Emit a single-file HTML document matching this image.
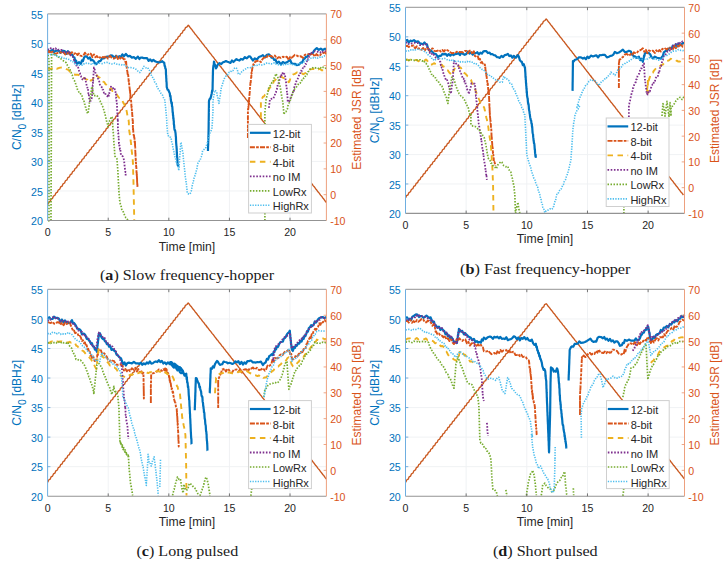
<!DOCTYPE html><html><head><meta charset="utf-8"><style>html,body{margin:0;padding:0;background:#fff;}svg{display:block;}text{font-family:"Liberation Sans",sans-serif;}.cap{font-family:"Liberation Serif",serif;}</style></head><body>
<svg width="726" height="563" viewBox="0 0 726 563">
<rect width="726" height="563" fill="#fff"/>
<path d="M108.21 13.9V220.5M168.82 13.9V220.5M229.43 13.9V220.5M290.03 13.9V220.5M47.6 190.99H326.4M47.6 161.47H326.4M47.6 131.96H326.4M47.6 102.44H326.4M47.6 72.93H326.4M47.6 43.41H326.4" stroke="#eef0f3" stroke-width="0.9" fill="none"/>
<polyline points="47.77,204.45 48.63,202.22 50.18,201.39 51.03,199.16 52.58,198.32 53.43,196.09 54.98,195.26 55.83,193.03 57.38,192.2 58.23,189.97 59.78,189.13 60.63,186.9 62.19,186.07 63.04,183.84 64.59,183.01 65.44,180.78 66.99,179.94 67.84,177.71 69.39,176.88 70.24,174.65 71.79,173.82 72.64,171.59 74.19,170.75 75.04,168.52 76.6,167.69 77.45,165.46 79,164.63 79.85,162.4 81.4,161.56 82.25,159.33 83.8,158.5 84.65,156.27 86.2,155.44 87.05,153.21 88.6,152.37 89.45,150.14 91.01,149.31 91.86,147.08 93.41,146.25 94.26,144.02 95.81,143.19 96.66,140.95 98.21,140.12 99.06,137.89 100.61,137.06 101.46,134.83 103.01,134 103.87,131.76 105.42,130.93 106.27,128.7 107.82,127.87 108.67,125.64 110.22,124.81 111.07,122.57 112.62,121.74 113.47,119.51 115.02,118.68 115.87,116.45 117.42,115.62 118.28,113.38 119.83,112.55 120.68,110.32 122.23,109.49 123.08,107.26 124.63,106.43 125.48,104.19 127.03,103.36 127.88,101.13 129.43,100.3 130.28,98.07 131.83,97.24 132.69,95 134.24,94.17 135.09,91.94 136.64,91.11 137.49,88.88 139.04,88.05 139.89,85.81 141.44,84.98 142.29,82.75 143.84,81.92 144.69,79.69 146.25,78.86 147.1,76.63 148.65,75.79 149.5,73.56 151.05,72.73 151.9,70.5 153.45,69.67 154.3,67.44 155.85,66.6 156.7,64.37 158.25,63.54 159.1,61.31 160.66,60.48 161.51,58.25 163.06,57.41 163.91,55.18 165.46,54.35 166.31,52.12 167.86,51.29 168.71,49.06 170.26,48.22 171.11,45.99 172.66,45.16 173.51,42.93 175.07,42.1 175.92,39.87 177.47,39.03 178.32,36.8 179.87,35.97 180.72,33.74 182.27,32.91 183.12,30.68 184.67,29.84 185.52,27.61 187.07,26.78 188.28,25.25 189.13,26.09 190.68,28.34 191.53,29.18 193.09,31.43 193.94,32.27 195.49,34.52 196.34,35.36 197.9,37.6 198.75,38.45 200.3,40.69 201.15,41.54 202.71,43.78 203.56,44.63 205.11,46.87 205.96,47.72 207.52,49.96 208.37,50.8 209.92,53.05 210.77,53.89 212.33,56.14 213.18,56.98 214.73,59.23 215.58,60.07 217.14,62.31 217.99,63.16 219.54,65.4 220.4,66.25 221.95,68.49 222.8,69.34 224.35,71.58 225.21,72.42 226.76,74.67 227.61,75.51 229.16,77.76 230.02,78.6 231.57,80.85 232.42,81.69 233.97,83.94 234.83,84.78 236.38,87.02 237.23,87.87 238.78,90.11 239.64,90.96 241.19,93.2 242.04,94.05 243.59,96.29 244.45,97.13 246,99.38 246.85,100.22 248.41,102.47 249.26,103.31 250.81,105.56 251.66,106.4 253.22,108.64 254.07,109.49 255.62,111.73 256.47,112.58 258.03,114.82 258.88,115.67 260.43,117.91 261.28,118.76 262.84,121 263.69,121.84 265.24,124.09 266.09,124.93 267.65,127.18 268.5,128.02 270.05,130.27 270.9,131.11 272.46,133.35 273.31,134.2 274.86,136.44 275.72,137.29 277.27,139.53 278.12,140.38 279.67,142.62 280.53,143.46 282.08,145.71 282.93,146.55 284.48,148.8 285.34,149.64 286.89,151.89 287.74,152.73 289.29,154.98 290.15,155.82 291.7,158.06 292.55,158.91 294.1,161.15 294.96,162 296.51,164.24 297.36,165.09 298.92,167.33 299.77,168.17 301.32,170.42 302.17,171.26 303.73,173.51 304.58,174.35 306.13,176.6 306.98,177.44 308.54,179.68 309.39,180.53 310.94,182.77 311.79,183.62 313.35,185.86 314.2,186.71 315.75,188.95 316.6,189.8 318.16,192.04 319.01,192.88 320.56,195.13 321.41,195.97 322.97,198.22 323.82,199.06 325.37,201.31 326.4,202.5" fill="none" stroke="#C9581F" stroke-width="1.35" stroke-linejoin="round"/>
<polyline points="47.59,49.94 49.19,51.64 50.79,50.86 52.39,49.84 53.98,52.2 55.58,50.79 57.18,50.76 58.78,50.67 60.37,52.8 61.97,51.14 63.47,50.75 64.97,51.24 66.47,53.74 67.96,51.09 69.3,53.63 70.63,52.79 71.96,54.62 72.79,55.75 73.62,57.26 74.45,57.57 75.29,61.42 76.12,60.61 76.95,64.37 78.95,62.18 80.95,63.77 81.94,60.4 82.94,61.12 83.94,57.86 84.94,56.4 86.6,56.43 88.27,58.69 89.93,57.35 90.93,60.31 91.93,59.73 92.93,60.42 93.93,61.27 94.93,63.21 96.26,64.2 97.59,62.66 98.92,61.29 100.58,60.82 102.25,58.15 103.91,58.39 105.58,57.17 107.24,56.48 108.91,56.62 110.7,55.47 112.5,55.56 114.3,58.03 116.1,55.77 117.89,57.47 119.39,56.11 120.89,56.92 122.39,54.32 123.89,56.3 125.88,53.94 127.88,56.33 129.88,55.91 131.87,57.63 133.87,57.19 135.87,58.88 137.87,56.55 139.36,59 140.86,57.52 142.36,57.64 143.86,58.2 145.46,58.09 147.05,58.17 148.65,60.89 150.25,59.42 151.85,61.3 153.34,59.83 154.84,61.13 156.34,61.74 157.84,62.14 159.34,62.48 160.83,62.06 162.33,61.21 163.83,62.68 164.23,62.65 164.63,65.98 165.03,66.26 165.43,68.83 165.83,68.95 165.91,70.51 165.99,74.31 166.08,75.06 166.16,75.3 166.24,78.35 166.33,78.21 166.41,81.77 166.49,81.47 166.58,82.47 166.66,83.85 166.74,87.14 166.83,87.28 167.57,89.72 168.32,89.97 169.07,91.72 169.82,93.37 170.15,96.39 170.49,95.89 170.82,99.72 171.15,101.42 171.49,103.67 171.82,102.48 171.98,106.53 172.15,105.98 172.32,107.19 172.48,109.29 172.65,112.37 172.82,112 172.98,115.55 173.15,115.28 173.32,118.64 173.48,118.16 173.65,120.91 173.82,121.19 173.82,124.29 174.07,124.74 174.31,128.2 174.56,129.85 174.81,130.29 175.06,130.22 175.31,131.84 175.56,133.29 175.81,136.66 175.91,136.49 176.01,139.89 176.11,142.14 176.21,143.5 176.31,144.69 176.41,146.01 176.51,146.32 176.61,148.03 176.71,148.95 176.81,152.71 176.92,154.08 177.03,155.96 177.14,157.31 177.26,157.57 177.37,159 177.48,162.11 177.59,164.07 177.7,163.88 177.81,165.44 178.81,166.92" fill="none" stroke="#0072BD" stroke-width="2.2" stroke-linejoin="round"/>
<polyline points="207.97,150.95 208.02,148.27 208.07,146.46 208.12,145.47 208.17,145.34 208.22,142.3 208.27,142.57 208.32,139.38 208.37,139.47 208.42,135.55 208.47,135.9 208.52,132.77 208.57,131.15 208.59,129.07 208.61,129.73 208.63,126.6 208.65,126.85 208.67,123.19 208.69,121.91 208.71,120.8 208.73,121.15 208.75,117.22 208.77,117.23 208.79,114.64 208.81,114.69 208.83,111.98 208.85,112.16 208.87,108.15 208.89,108.63 208.91,107.56 208.93,105.74 208.95,102.28 208.97,101.02 209.47,99.32 209.97,98.48 210.46,98.67 210.96,96.48 211.36,95.13 211.76,93.23 212.16,90.36 212.56,90.99 212.59,87.89 212.62,86.41 212.65,84.47 212.68,83.29 212.72,81.45 212.75,81.33 212.78,78.74 212.81,78.09 212.84,75 212.87,75.64 212.9,74.24 212.93,72.71 212.96,70.9 213.21,67.68 213.46,65.48 213.71,65.72 213.96,61.53 214.63,63.85 215.29,65.29 215.96,68.39 216.96,66.61 217.95,64.42 219.62,63.13 221.28,64.07 222.95,62.21 224.44,61.89 225.94,61.02 227.44,61.78 228.94,62.27 230.44,62.95 231.93,60.48 233.43,62.05 234.93,60.52 236.43,59.19 237.93,60.01 239.42,60.57 240.92,58.95 242.92,59.59 244.92,57.05 246.91,58.34 248.91,56.24 250.24,56.58 251.57,58.51 252.9,60.5 254.9,58.37 256.9,59.47 258.9,57.07 260.89,56.33 262.89,55.11 264.89,57.4 266.89,54.77 268.88,54.39 270.21,55.49 271.55,57.63 272.88,57.49 274.21,59.93 275.54,59.51 276.87,63.22 278.87,61.68 280.87,64.48 282.86,62.04 284.86,63.12 286.86,62.32 288.85,60.87 290.19,59.9 291.52,63.27 292.85,63.51 294.85,63.79 296.84,65.04 298.84,64.76 300.84,62.5 302.17,62.72 303.5,59.25 304.83,58.52 305.83,56.92 306.83,56.94 307.83,55.88 308.83,54.45 310.82,53.65 312.82,53.01 314.15,50.46 315.48,49.18 316.82,48.14 318.81,49.8 320.81,48.61 322.67,50.14 324.54,48.88 326.4,48.95" fill="none" stroke="#0072BD" stroke-width="2.2" stroke-linejoin="round"/>
<polyline points="47.59,52.94 49.19,50.97 50.79,53.46 52.39,51.67 53.98,53.52 55.58,53.97 57.18,53.17 58.78,52.29 60.37,52.08 61.97,53.51 63.57,52.15 65.17,54.43 66.77,54.82 68.36,52.56 69.96,54.45 71.96,52.22 73.96,54.13 75.95,52.49 77.45,55.07 78.95,53.48 80.45,55.66 81.94,56.01 83.44,55.41 84.94,52.67 86.44,55.09 87.94,54.62 89.43,53.19 90.93,53.78 92.43,57.1 93.93,54.37 95.43,57.26 96.92,56.07 98.42,58.4 99.92,57.23 101.42,58.42 102.91,56.98 104.41,57.59 105.91,55.98 107.91,58.6 109.9,55.74 111.9,58.08 113.4,58.62 114.9,57.88 116.4,55.99 117.89,58.98 119.39,57.09 120.89,59.27 122.39,57.55 123.89,59.41 124.88,59.26 125.88,63.65 126.13,61.65 126.38,65.7 126.63,65.25 126.88,69.32 127.13,70.61 127.38,71.46 127.63,74.13 127.88,74.82 128.08,74.08 128.28,76.11 128.48,77.89 128.68,81.49 128.88,80.57 129.08,82.58 129.28,86.51 129.48,87.13 129.68,88.71 129.88,90.83 130.03,89.97 130.18,94.54 130.34,94 130.49,97.74 130.65,98.74 130.8,99.95 130.95,100.2 131.11,100.76 131.26,103.01 131.41,105.72 131.57,107.39 131.72,106.75 131.87,110.47 132,112.18 132.12,111.99 132.25,115.22 132.37,115.43 132.5,118.11 132.62,120.31 132.75,122 132.87,120.4 132.87,125.35 132.87,127.57 132.87,129.22 133.09,128.57 133.32,131.85 133.54,133.5 133.76,135.68 133.98,134.45 134.2,137.96 134.43,137.79 134.65,142.15 134.87,140.2 134.95,142.19 135.02,143.24 135.1,147.12 135.18,146.47 135.25,150.81 135.33,150.71 135.41,154.27 135.48,153.34 135.56,156.34 135.64,156.79 135.71,160.15 135.79,159.03 135.87,162.63 135.98,162.57 136.09,166.46 136.2,165.75 136.31,167.35 136.42,168.99 136.53,172.94 136.65,171.87 136.76,175.57 136.87,174.35 136.95,178.63 137.04,177.7 137.12,182.27 137.21,181.7 137.3,184.73 137.38,183.64 137.47,186.9" fill="none" stroke="#D95319" stroke-width="1.9" stroke-dasharray="5 1.2 2.7 1.2" stroke-linejoin="round"/>
<polyline points="247.91,137.96 247.91,135.84 247.91,133.85 247.91,132.8 247.91,132.54 247.91,129.16 247.91,129.21 247.91,125.48 247.91,126.36 247.91,124.81 247.91,123.3 247.91,120.58 247.91,118.88 247.91,119.22 247.91,115.23 247.91,113.97 247.91,113.12 247.91,110.95 248.08,108.81 248.24,109.03 248.41,107.42 248.58,104.07 248.74,105.08 248.91,100.1 249.04,101.61 249.16,98.13 249.29,98.24 249.41,94.94 249.53,94.8 249.66,92.44 249.78,92.17 249.91,88.78 250.06,86.67 250.22,85.34 250.37,83.74 250.52,82.12 250.68,83.59 250.83,79.81 250.98,79.67 251.14,77.09 251.29,77.63 251.45,72.76 251.6,73.72 251.75,72.71 251.91,71.16 252.41,67.66 252.9,66.49 253.4,64.29 253.9,64.56 255.4,61.25 256.9,61.23 258.9,60.51 260.89,62.14 262.23,59.52 263.56,57.95 264.89,57.46 266.22,58.23 267.55,55.56 268.88,56.04 270.88,55.89 272.88,57.04 274.87,55.61 276.87,58.43 278.87,57.13 280.87,57.98 282.86,56.68 284.86,57.64 286.86,56.66 288.85,59.94 290.19,56.79 291.52,57.76 292.85,56.75 294.85,54.81 296.84,55.51 298.84,56.73 300.84,56.22 302.84,57.88 304.83,54.88 306.83,54.06 308.83,54.15 310.82,54.46 312.82,53.52 314.82,56.6 316.47,54.1 318.13,55.53 319.78,55.79 321.44,53.27 323.09,53.07 324.75,52.37 326.4,53.94" fill="none" stroke="#D95319" stroke-width="1.9" stroke-dasharray="5 1.2 2.7 1.2" stroke-linejoin="round"/>
<polyline points="47.59,68.92 49.19,68.51 50.79,69.2 52.39,68.51 53.98,69.38 55.58,68.13 57.18,68.74 58.78,68.04 60.37,67.66 61.97,67.53 63.47,68.17 64.97,68.17 66.47,69.06 67.96,69.67 69.46,71.2 70.96,72.62 72.46,73.69 73.96,74.44 75.55,74.71 77.15,74.64 78.75,74.99 80.35,75.81 81.94,77.66 83.28,78.21 84.61,78.14 85.94,79.23 87.27,79.59 88.6,81.67 89.93,82.42 90.93,80.26 91.93,80.12 92.93,79.14 93.93,76.9 94.93,75.51 95.92,74.15 97.12,75.74 98.32,77.13 99.52,77.44 100.72,79.2 101.92,79.55 103.11,81.62 104.31,82.12 105.51,84.23 106.71,84.91 107.91,86.07 109.05,86.42 110.19,88.73 111.33,88.57 112.47,91.08 113.61,91.2 114.76,93.23 115.9,93.48 117.09,94.92 118.29,96.93 119.49,98.1 120.69,98.25 121.89,99.13 122.69,101.24 123.49,103.25 124.28,104.15 125.08,106.81 125.88,107.55 126.22,109.17 126.55,110.62 126.88,112.19 127.21,114.35 127.55,116.17 127.88,117.61 128.21,119.46 128.55,119.93 128.88,122.54 128.88,123.75 128.88,125.37 128.88,127.43 129.1,130.14 129.32,130.79 129.54,132.81 129.77,133.93 129.99,136.13 130.21,137.69 130.43,138.22 130.65,140.72 130.88,142.33 131.03,143.06 131.18,145.46 131.34,146.08 131.49,148.87 131.64,149.97 131.8,151.95 131.95,151.95 132.1,155.03 132.26,155.28 132.41,156.65 132.57,158.15 132.72,159.74 132.87,161.62 132.92,163.92 132.96,164.4 133.01,166.35 133.06,168.45 133.1,170.33 133.15,170.74 133.2,173.44 133.24,173.7 133.29,176.3 133.33,176.78 133.38,179.42 133.43,180.17 133.47,182.48 133.5,182.94 133.53,185.18 133.56,187.12 133.59,187.34 133.63,189.2 133.66,191.92 133.69,192.18 133.72,194.87 133.75,195.37 133.78,197.74 133.81,198.34 133.84,200.82 133.87,201.61 133.9,203.21 133.94,205.26 133.97,206.89 134,207.37 134.04,209.81 134.07,210.7 134.1,213.23 134.14,214.43 134.17,216.1 134.2,217.09 134.24,219.07 134.27,220.45" fill="none" stroke="#EDB120" stroke-width="1.9" stroke-dasharray="5.5 4.5" stroke-linejoin="round"/>
<polyline points="260.89,117.85 260.89,115.49 260.89,114.34 260.89,112.63 260.89,111.64 260.89,109.22 260.89,108.25 260.89,106.81 260.89,104.46 260.89,102.97 260.89,101.92 260.89,99.15 261.89,98.92 262.89,96.79 263.89,96.54 264.89,94.87 265.89,94.07 266.89,91.62 267.88,91.33 268.88,89.41 269.74,87.84 270.59,86.87 271.45,85.77 272.31,83.46 273.16,83.15 274.02,80.78 274.87,80.3 276.37,78.61 277.87,78.18 279.37,76.35 280.87,76.45 282.86,77.61 284.86,78.65 286.19,78.84 287.52,81.22 288.85,82.17 289.65,80.71 290.45,78.3 291.25,76.7 292.05,75.13 292.85,74.55 294.85,73.91 296.84,72.41 298.44,72.74 300.04,73.93 301.64,73.16 303.23,74.26 304.83,73.36 306.16,72.93 307.5,70.73 308.83,69.38 310.42,69.37 312.02,69.11 313.62,68.93 315.22,69.55 316.82,68.46 318.41,69.42 320.01,68.86 321.61,70.18 323.21,70.18 324.8,70.52 326.4,69.92" fill="none" stroke="#EDB120" stroke-width="1.9" stroke-dasharray="5.5 4.5" stroke-linejoin="round"/>
<polyline points="47.59,48.95 49.19,49.78 50.79,48.24 52.39,47.83 53.98,49.32 55.58,48.3 57.18,50.33 58.78,49.55 60.37,50.02 61.97,49.94 63.47,52.15 64.97,52.42 66.47,52.06 67.96,52.89 69.3,52.16 70.63,55.45 71.96,56.41 72.76,56.43 73.56,58.3 74.35,61.3 75.15,62.96 75.95,63.67 76.7,66.42 77.45,66.27 78.2,67.59 78.95,70.53 79.45,72.4 79.95,72.98 80.45,75.88 80.95,76.14 81.44,78.54 81.94,78.89 83.44,79.83 84.94,76.83 85.31,80.05 85.69,80.4 86.06,83.13 86.44,84.46 86.81,85.96 87.19,86.04 87.56,89.2 87.94,88.81 88.19,92.08 88.43,93.73 88.68,93.37 88.93,95.25 89.18,98.37 89.43,98.62 89.68,101.06 89.93,100.98 90.93,100.65 91.93,97.57 92.03,97.03 92.13,94.44 92.23,94.53 92.33,90.7 92.43,90.07 92.53,87.84 92.63,87.91 92.73,85.17 92.83,85.2 92.93,82.23 93.03,80.23 93.13,80.89 93.23,79.31 93.33,76.14 93.43,75.81 93.53,73.27 93.63,73.23 93.73,70.6 93.83,70.1 93.93,67.46 94.53,68.37 95.13,72.24 95.72,73.43 96.32,74.81 96.92,76.29 97.52,77.18 98.12,78.66 98.72,80 99.32,81.72 99.92,84.76 100.72,86.17 101.52,86.62 102.32,89.6 103.11,89.57 103.91,92.73 104.91,92.21 105.91,95.41 106.91,95.86 107.91,96.98 108.41,95.05 108.91,95.7 109.41,92.46 109.9,90.94 110.4,88.87 110.9,86.7 112.4,88.48 113.9,87.64 114.4,87.5 114.9,91.07 115.4,91.44 115.9,94.91 116.06,94.41 116.23,98.23 116.4,98.33 116.56,101.22 116.73,101.27 116.9,104.69 116.98,105.74 117.06,105.88 117.14,109.39 117.23,110.34 117.31,111.87 117.39,113.79 117.48,113.67 117.56,116.29 117.64,117.78 117.73,120.18 117.81,119.36 117.89,122.51 117.89,123.61 117.89,125.09 117.89,126.95 118,129.97 118.12,130.56 118.23,133.39 118.34,133.35 118.45,135.13 118.56,136.6 118.67,139.43 118.78,139.24 118.89,143.13 119.14,142.92 119.39,145.81 119.64,145.91 119.89,149.08 120.14,148.73 120.39,149.81 120.64,152.02 120.89,154.87 121.89,155.27 122.89,156.74 123.89,159.55 124.09,160.41 124.28,162.59 124.48,164.97 124.68,166.05 124.88,168.3 125.08,170.11 125.28,171.99 125.48,171.79 125.68,175.47 125.88,175.91" fill="none" stroke="#7E2F8E" stroke-width="1.8" stroke-dasharray="1.6 1.6" stroke-linejoin="round"/>
<polyline points="268.88,107.86 269.08,105.81 269.28,104.09 269.48,103.66 269.68,102 269.88,99.17 271.38,98.81 272.88,98.25 273.48,98.53 274.08,96.53 274.67,95.8 275.27,92.89 275.87,92.48 276.37,90.63 276.87,89.46 277.37,85.82 277.87,85.74 278.37,83.32 278.87,83.02 279.44,79.94 280.01,78.53 280.58,76.69 281.15,77.16 281.72,73.87 282.29,74.37 282.86,72.18 284.86,74.81 285.06,74.54 285.26,77.82 285.46,77.82 285.66,81.25 285.86,81.33 286.06,82.35 286.26,84.68 286.46,87.55 286.66,87.49 286.86,90.15 286.98,92.36 287.11,93.52 287.23,93.19 287.36,95.54 287.48,97.03 287.61,99.3 287.73,101.46 287.86,101.15 288.85,101.68 289.85,100.28 290.85,97.25 291.45,95.94 292.05,93.97 292.65,93.61 293.25,90.57 293.85,91.02 294.35,87.13 294.85,86.05 295.35,84.01 295.84,83.78 296.34,81.25 296.84,80.35 297.64,79.01 298.44,77.19 299.24,74.37 300.04,74.28 300.84,70.72 301.84,70.89 302.84,68.07 303.83,68.41 304.83,65.55 305.43,63.81 306.03,64.11 306.63,62.51 307.23,59.43 307.83,59.74 308.43,56.72 309.03,56.9 309.63,53.9 310.22,54.46 310.82,53.01 312.82,52.58 314.82,51.11 316.82,51.32 318.41,52.07 320.01,52.71 321.61,50.82 323.21,52.11 324.8,51.41 326.4,50.94" fill="none" stroke="#7E2F8E" stroke-width="1.8" stroke-dasharray="1.6 1.6" stroke-linejoin="round"/>
<polyline points="47.99,54.94 48.32,56.11 48.66,58.62 48.99,59.18 48.99,61.93 48.99,62.49 48.99,64.8 48.99,65.22 48.99,67.86 48.99,68.72 48.99,69.93 48.99,72.69 48.99,73.85 48.99,75.72 48.99,76.74 48.99,78.32 48.99,79.84 48.99,80.45 48.99,82.91 48.99,83.58 48.99,85.75 48.99,86.27 48.99,88.83 48.99,89.6 48.99,91.06 48.99,92.58 48.99,94.64 48.99,95.43 48.99,98.08 48.99,98.7 48.99,100.85 48.99,102.43 48.99,103.81 48.99,104.36 48.99,106.73 48.99,107.36 48.99,109.17 48.99,110.71 48.99,112.09 48.99,113.52 48.99,116.18 48.99,117.52 48.99,118.12 48.99,119.67 48.99,122.21 48.99,122.23 48.99,124.87 48.99,125.6 48.99,128.02 48.99,128.47 48.99,130 48.99,131.56 48.99,133.94 48.99,134.4 48.99,137.09 48.99,137.52 48.99,139.65 48.99,141.41 48.99,142.8 48.99,143.41 48.99,145.76 48.99,146.25 48.99,148.63 48.99,149.16 48.99,151.84 48.99,152.77 48.99,154.75 48.99,155.44 48.99,157.68 48.99,158.16 48.99,159.89 48.99,162.43 48.99,163.63 48.99,165.32 48.99,166.08 48.99,167.74 48.99,169.85 48.99,171.73 48.99,171.91 48.99,173.35 48.99,175.77 48.99,176.63 48.99,179.19 48.99,179.69 48.99,181.83 48.99,182.35 48.99,184.7 48.99,185.64 48.99,187.63 48.99,188.63 48.99,189.98 48.99,192.44 48.99,193.74 48.99,194.16 48.99,196.66 48.99,197.2 48.99,199.12 48.99,200.63 48.99,203.17 48.99,203.46 48.99,205.74 48.99,206.69 48.99,208.68 48.99,209.55 48.99,212.09 48.99,212.24 48.99,214.95 48.99,216.16 48.99,217.85 48.99,219.54 48.99,221 50.99,220.04 50.99,219.25 51,216.79 51,216.66 51.01,214.93 51.01,213.51 51.02,211.96 51.03,210.51 51.03,207.8 51.04,207.62 51.04,205.15 51.05,204.43 51.05,202.2 51.06,201.16 51.06,199.68 51.07,197.35 51.07,196.62 51.08,195.54 51.08,193.22 51.09,192.73 51.1,190.11 51.1,189.45 51.11,188 51.11,186.67 51.12,184.06 51.12,183.23 51.13,181.92 51.13,180.56 51.14,177.69 51.14,176.32 51.15,175 51.15,174.69 51.16,171.97 51.17,170.69 51.17,169.08 51.18,167.46 51.18,166.69 51.19,165.58 51.19,163.13 51.2,161.35 51.2,159.97 51.21,159.74 51.21,157.62 51.22,156.34 51.22,154.08 51.23,153.55 51.24,150.73 51.24,150.62 51.25,148.12 51.25,146.2 51.26,145.79 51.26,144.2 51.27,141.67 51.27,141.57 51.28,139.28 51.28,138.31 51.29,135.7 51.3,135.62 51.3,133.84 51.31,131.71 51.31,130.72 51.32,129.38 51.32,127.74 51.33,125.46 51.33,124.22 51.34,123.42 51.34,121.19 51.35,120.51 51.35,118.08 51.36,117.52 51.37,114.76 51.37,114.41 51.38,112.94 51.38,111.19 51.39,108.92 51.39,108.15 51.4,106 51.4,105.43 51.41,102.99 51.41,102.73 51.42,99.74 51.42,99.24 51.43,96.96 51.44,96.67 51.44,94.1 51.45,92.26 51.45,91.96 51.46,90.37 51.46,88.63 51.47,87.42 51.47,85.1 51.48,84.14 51.48,81.82 51.49,81.37 51.49,78.71 51.5,77.28 51.51,75.81 51.51,75.49 51.52,74.22 51.52,71.74 51.53,70.04 51.53,68.64 51.54,66.82 51.54,65.68 51.55,63.66 51.55,62.39 51.56,61.79 51.56,60.43 51.57,58.89 51.58,57.56 51.58,54.64 51.59,54.73 53.05,53.89 54.52,54.79 55.98,54.72 57.18,56.67 58.38,57.27 59.58,57.38 60.77,58.51 61.97,59.64 63.97,61.26 65.97,62.52 66.77,63.89 67.56,65.61 68.36,66.36 69.16,68.78 69.96,69.17 70.53,71.71 71.1,72.3 71.67,74.62 72.24,75.1 72.81,77.7 73.38,78.78 73.96,80.19 74.53,80.79 75.1,82.12 75.67,83.89 76.24,86.15 76.81,86.59 77.38,89.2 77.95,90.68 78.95,92.1 79.95,92.16 80.95,94.77 81.94,95.22 82.44,97.59 82.94,99.56 83.44,101.07 83.94,101.11 84.44,103.74 84.94,104.44 85.44,107.06 85.94,107.45 86.44,110.11 86.94,110.65 87.44,113.04 87.94,113.65 88.16,113.05 88.38,110.22 88.6,109.86 88.82,107.32 89.05,106.28 89.27,104.32 89.49,102.28 89.71,101.18 89.93,100.57 90.15,99.02 90.38,97.26 90.6,94.94 90.82,94.28 91.04,91.86 91.26,91.3 91.49,89.56 91.71,87.02 91.93,86.52 92.26,87.34 92.6,88.76 92.93,91.36 93.26,91.96 93.59,94.51 93.93,95.62 96.92,95.45 97.92,96.99 98.92,98.14 99.92,100.12 100.49,101.88 101.06,102.53 101.63,104.51 102.2,106.01 102.77,106.76 103.34,108.23 103.91,110.52 104.29,110.91 104.66,113.33 105.04,113.8 105.41,116.12 105.79,117.3 106.16,119.5 106.53,121.07 106.91,121.66 107.41,123.46 107.91,126.75 108.51,123.69 109.11,123.18 109.71,120.54 110.3,119.81 110.9,117.81 111.9,116.75 112.03,117.04 112.15,118.55 112.28,119.89 112.4,122.75 112.53,123.28 112.65,125.32 112.78,126.02 112.9,127.74 113.01,130.28 113.12,131.59 113.23,132.14 113.34,134.87 113.46,135.22 113.57,137.82 113.68,139.14 113.79,140.84 113.9,142.44 114.01,144.28 114.12,145.28 114.23,147.37 114.34,147.49 114.45,149.98 114.57,150.7 114.68,153.51 114.79,155.03 114.9,156.11 116.9,158.68 117.01,159.32 117.12,160.41 117.23,163.09 117.34,163.58 117.45,166.22 117.56,166.74 117.67,169.08 117.78,169.79 117.89,171.24 117.97,173.1 118.05,174.7 118.12,175.76 118.2,178.73 118.28,178.87 118.35,181.33 118.43,182.15 118.51,184.82 118.59,185.13 118.66,187.97 118.74,188.02 118.82,190.54 118.89,191.2 119.06,194.02 119.23,194.46 119.39,197.43 119.56,198.2 119.72,200.72 119.89,201.25 120.29,203.84 120.69,204.65 121.09,206.21 121.49,207.84 121.89,210.26 122.64,210.66 123.39,212.14 124.14,214.12 124.88,216.03 125.88,217.63 126.88,218.17 127.88,220.45" fill="none" stroke="#77AC30" stroke-width="1.7" stroke-dasharray="1.5 1.5" stroke-linejoin="round"/>
<polyline points="264.89,220.45 264.89,218.23 264.89,217.8 264.89,216.61 264.89,214.68 264.89,212.17 264.89,211.89 264.89,209.22 264.89,207.79 264.89,206.44 264.89,205.93 264.89,203.65 264.89,202.94 264.89,200.5 264.89,199.87 264.89,197.27 264.89,197.07 264.89,194.52 264.89,194.04 264.89,191.53 264.89,191.05 264.89,188.5 264.89,186.65 264.89,186.31 264.89,183.51 264.89,182.46 264.89,181.94 264.89,179.53 264.89,178.66 264.89,176.49 264.89,175.66 264.89,173.53 264.89,172.96 264.89,170.12 264.89,169.54 264.89,167.32 264.89,166.81 264.89,164.04 264.89,162.72 264.89,161.51 264.89,160.67 264.89,158.99 264.89,156.78 264.89,155.05 264.89,154.9 264.89,153.26 264.89,151.51 264.89,149.01 264.89,148.95 264.89,146.94 264.89,144.64 264.89,142.95 264.89,142.69 264.89,139.85 264.89,139.48 264.89,137.24 264.89,136.5 264.89,135.25 264.89,133.65 264.89,131.36 264.89,130.79 264.89,128.36 264.89,127.23 264.89,126.07 264.89,124.54 264.89,121.81 264.89,120.37 264.89,119.31 264.89,118.19 264.89,116.21 264.89,114.66 264.89,114.27 264.89,112.59 265.01,110.04 265.14,109.14 265.26,106.89 265.39,106.25 265.51,104.09 265.64,103.48 265.76,101.86 265.89,100.43 266.26,98.94 266.64,97.33 267.01,94.93 267.38,94.05 267.76,93.14 268.13,91.05 268.51,88.92 268.88,87.18 269.88,86.01 270.88,85.21 271.88,82.64 272.88,82.2 273.48,79.99 274.08,78.22 274.67,76.88 275.27,75.72 275.87,73.68 276.87,75.51 277.87,77.36 278.27,79.05 278.67,80.85 279.07,83.16 279.47,84.08 279.87,85.59 280.17,86.88 280.47,88.49 280.77,90.33 281.07,92.57 281.37,93.32 281.66,96.13 281.96,97.78 282.26,99.46 282.56,100.77 282.86,101.63 282.99,103.91 283.11,105.53 283.24,106.93 283.36,108.65 283.49,108.88 283.61,111.16 283.74,111.83 283.86,114.49 284.86,111.87 285.86,111.72 286.86,110.03 287.36,109.03 287.86,106.08 288.36,104.63 288.85,103.45 289.35,102.56 289.85,101.4 290.35,100.09 290.85,98.53 291.42,96.75 291.99,95.63 292.56,93.85 293.13,91.44 293.7,90.1 294.28,89.67 294.85,88.64 296.18,87.21 297.51,85.68 298.84,83.27 300.17,83.17 301.5,80.46 302.84,80.39 303.83,77.84 304.83,77.52 305.83,75.14 306.83,74.64 307.83,71.88 308.83,71.25 309.83,69.72 310.82,68.51 312.82,67.7 314.82,68.2 316.82,67.43 318.41,68.38 320.01,67.23 321.61,68.48 323.21,67.25 324.8,68.53 326.4,67.92" fill="none" stroke="#77AC30" stroke-width="1.7" stroke-dasharray="1.5 1.5" stroke-linejoin="round"/>
<polyline points="47.59,53.94 49.19,53.63 50.79,54.77 52.39,54.25 53.98,55.53 55.58,54.82 57.18,56.46 58.78,56.33 60.37,57.51 61.97,57.33 63.57,57.91 65.17,59.12 66.77,58.48 68.36,59.13 69.96,59.74 71.46,61.42 72.96,61.71 74.45,63.57 75.95,64.72 77.45,64.77 78.95,65.22 80.45,65.18 81.94,65.14 83.44,63.7 84.94,64.29 86.44,63.1 87.94,63.18 89.43,63.76 90.93,64.22 92.43,62.93 93.93,64.64 95.53,64.47 97.12,62.83 98.72,62.88 100.32,63.36 101.92,63.61 103.51,63.27 105.11,62.47 106.71,62.24 108.31,63.1 109.9,63.42 111.5,63.85 113.1,64.02 114.7,63.17 116.3,64.07 117.89,64.17 119.49,64.6 121.09,64.5 122.69,65.41 124.28,64.87 125.88,66.13 127.48,67.3 129.08,67.83 130.68,67.56 132.27,67.93 133.87,68.22 135.37,68.95 136.87,69.74 138.37,71.78 139.86,72.53 140.86,71.27 141.86,68.93 142.86,68.42 143.86,66.28 145.85,67.8 147.85,67.59 148.6,69.73 149.35,70.34 150.1,71.96 150.85,73.24 151.6,76.17 152.35,76.66 153.09,78.61 153.84,79.28 154.64,81.96 155.44,82.55 156.24,83.95 157.04,86.9 157.84,88.15 158.84,90.11 159.84,91.16 160.83,93.16 161.83,94.15 162.58,95.21 163.33,97.33 164.08,98.86 164.83,100.18 164.99,100.92 165.16,103.9 165.33,105.26 165.49,106.72 165.66,108 165.83,110.07 165.95,111.15 166.08,113.48 166.2,113.66 166.33,115.25 166.45,117.09 166.58,119.68 166.7,119.94 166.83,122.25 166.83,123.72 166.95,126 167.07,126.39 167.2,128.29 167.32,129.51 167.45,131.87 167.57,132.67 167.7,133.94 167.82,135.17 169.32,137.24 170.82,137.25 171.12,138.01 171.42,140.33 171.72,142.23 172.02,143.27 172.32,143.94 172.62,145.34 172.92,148.23 173.22,148.65 173.52,151.17 173.82,151.38 174.21,154.09 174.61,154.62 175.01,157.4 175.41,157.7 175.81,160.31 176.31,162.06 176.81,162.58 177.31,164.39 177.81,166.17 178.31,167.52 178.81,170.61 178.92,167.76 179.03,167.35 179.14,164.56 179.25,164.44 179.36,162.68 179.47,161.12 179.59,158.43 179.7,158.28 179.81,155.27 179.92,154.04 180.03,152.28 180.14,152.05 180.25,149.42 180.36,147.4 180.47,147.36 180.58,145.66 180.69,142.98 180.81,142.27 181.14,142.95 181.47,145.51 181.8,146.21 182.14,148.94 182.47,151.04 182.8,152.27 182.96,152.85 183.11,155.52 183.26,156.36 183.42,158.81 183.57,159.45 183.72,161.79 183.88,162.25 184.03,164.97 184.19,165.98 184.34,167.81 184.49,168.54 184.65,170.88 184.8,171.17 185,173.81 185.2,175.62 185.4,176.96 185.6,177.76 185.8,180.36 186,180.74 186.2,183.79 186.4,183.9 186.6,186.54 186.8,188.13 187,189.93 187.2,191.9 187.4,193.34 189.39,194.36 190.39,193.23 191.39,190.46 191.66,189.23 191.92,187.23 192.19,185.81 192.46,184.54 192.72,183.62 192.99,181.39 193.49,180.89 193.99,178.27 194.49,177.58 194.99,175.58 195.36,175.19 195.73,172.3 196.11,171.77 196.48,169.69 196.86,168.87 197.23,166.4 197.61,165.06 197.98,163.2 198.73,162.64 199.48,160.56 200.23,159.82 200.98,157.43 201.38,156.53 201.78,154.96 202.18,153.56 202.58,150.98 202.97,150.32 204.47,149.2 205.97,147.49 206.35,146.04 206.72,144.17 207.09,143.29 207.47,142.59 207.84,139.87 208.22,139.63 208.59,138.22 208.97,136.22 209.57,134.81 210.16,132.5 210.76,131.97 211.36,129.86 211.96,127.74 212.06,126.6 212.16,125.3 212.26,123.59 212.36,121.96 212.46,120.2 212.56,118.15 212.66,117.01 212.76,114.75 212.86,114.37 212.96,111.76 212.96,111.1 212.96,108.22 212.96,107.84 212.96,105.63 212.96,104.62 212.96,102.68 212.96,101.73 212.96,100.56 213.29,98.9 213.63,96.38 213.96,95.25 214.29,92.77 214.63,91.73 214.96,90.21 215.96,91.23 216.96,93.33 217.29,96.26 217.62,96.64 217.95,98.47 218.29,100.21 218.62,101.9 218.95,103.33 219.17,103.08 219.4,100.55 219.62,98.64 219.84,97.35 220.06,96.5 220.28,94.89 220.51,93.28 220.73,91.28 220.95,90.3 221.35,87.51 221.75,87.02 222.15,84.59 222.55,83.98 222.95,82.38 223.95,79.62 224.94,77.26 225.94,76.12 226.94,74.63 227.94,74.44 229.19,72.24 230.44,72.18 231.68,70.46 232.93,70.64 234.43,68.17 235.93,67.6 236.53,68.36 237.13,69.59 237.73,71.27 238.33,73.85 238.92,74.44 239.92,74.11 240.92,72.84 241.92,71.58 242.92,70.45 244.42,70.13 245.91,68.73 247.41,67.71 248.91,67.76 250.51,67.64 252.11,66.5 253.7,66.53 255.3,64.99 256.9,65.4 258.5,64.19 260.09,64.93 261.69,64.97 263.29,64.46 264.89,64.12 266.49,63.16 268.08,62.95 269.68,63.78 271.28,63.85 272.88,63.71 274.47,62.64 276.07,64.1 277.67,64.51 279.27,65.14 280.87,65.19 282.46,65.31 284.06,64.07 285.66,64.52 287.26,63.84 288.85,64.67 290.45,63.7 292.05,64.53 293.65,64.72 295.25,65.37 296.84,64.24 298.44,63.84 300.04,63.38 301.64,63.86 303.23,62.09 304.83,61.58 306.43,60.38 308.03,59.98 309.63,59.35 311.22,58.1 312.82,57.59 314.42,58.53 316.02,57.22 317.61,58.09 319.21,57.7 320.81,56.43 322.67,57.07 324.54,55.83 326.4,55.94" fill="none" stroke="#4DBEEE" stroke-width="1.6" stroke-dasharray="1.3 1.3" stroke-linejoin="round"/>
<path d="M47.6 13.9H326.4" stroke="#a9a9a9" stroke-width="1.1" fill="none"/>
<path d="M47.6 220.5H326.4" stroke="#939393" stroke-width="1.1" fill="none"/>
<path d="M47.6 13.9V220.5" stroke="#6eaee0" stroke-width="1" fill="none"/>
<path d="M326.4 13.9V220.5" stroke="#eda07e" stroke-width="1" fill="none"/>
<path d="M108.21 13.9v2.8M108.21 220.5v-2.8M168.82 13.9v2.8M168.82 220.5v-2.8M229.43 13.9v2.8M229.43 220.5v-2.8M290.03 13.9v2.8M290.03 220.5v-2.8" stroke="#555" stroke-width="0.8" fill="none"/>
<path d="M47.6 190.99h2.8M47.6 161.47h2.8M47.6 131.96h2.8M47.6 102.44h2.8M47.6 72.93h2.8M47.6 43.41h2.8" stroke="#5aa0d8" stroke-width="0.8" fill="none"/>
<path d="M326.4 194.68h-2.8M326.4 168.85h-2.8M326.4 143.03h-2.8M326.4 117.2h-2.8M326.4 91.38h-2.8M326.4 65.55h-2.8M326.4 39.72h-2.8" stroke="#e8926a" stroke-width="0.8" fill="none"/>
<text x="42.8" y="225.1" font-size="10.6" fill="#0072BD" text-anchor="end">20</text>
<text x="42.8" y="195.59" font-size="10.6" fill="#0072BD" text-anchor="end">25</text>
<text x="42.8" y="166.07" font-size="10.6" fill="#0072BD" text-anchor="end">30</text>
<text x="42.8" y="136.56" font-size="10.6" fill="#0072BD" text-anchor="end">35</text>
<text x="42.8" y="107.04" font-size="10.6" fill="#0072BD" text-anchor="end">40</text>
<text x="42.8" y="77.53" font-size="10.6" fill="#0072BD" text-anchor="end">45</text>
<text x="42.8" y="48.01" font-size="10.6" fill="#0072BD" text-anchor="end">50</text>
<text x="42.8" y="18.5" font-size="10.6" fill="#0072BD" text-anchor="end">55</text>
<text x="330.2" y="224.9" font-size="10.6" fill="#D95319">-10</text>
<text x="330.2" y="199.08" font-size="10.6" fill="#D95319">0</text>
<text x="330.2" y="173.25" font-size="10.6" fill="#D95319">10</text>
<text x="330.2" y="147.43" font-size="10.6" fill="#D95319">20</text>
<text x="330.2" y="121.6" font-size="10.6" fill="#D95319">30</text>
<text x="330.2" y="95.78" font-size="10.6" fill="#D95319">40</text>
<text x="330.2" y="69.95" font-size="10.6" fill="#D95319">50</text>
<text x="330.2" y="44.12" font-size="10.6" fill="#D95319">60</text>
<text x="330.2" y="18.3" font-size="10.6" fill="#D95319">70</text>
<text x="47.6" y="236" font-size="10.6" fill="#262626" text-anchor="middle">0</text>
<text x="108.21" y="236" font-size="10.6" fill="#262626" text-anchor="middle">5</text>
<text x="168.82" y="236" font-size="10.6" fill="#262626" text-anchor="middle">10</text>
<text x="229.43" y="236" font-size="10.6" fill="#262626" text-anchor="middle">15</text>
<text x="290.03" y="236" font-size="10.6" fill="#262626" text-anchor="middle">20</text>
<text x="187" y="250.5" font-size="12.2" fill="#262626" text-anchor="middle">Time [min]</text>
<text transform="translate(21.1,117.2) rotate(-90)" font-size="12" fill="#0072BD" text-anchor="middle">C/N<tspan font-size="10.3" dy="4.6">0</tspan><tspan dy="-4.6"> [dBHz]</tspan></text>
<text transform="translate(360.9,117.8) rotate(-90)" font-size="12" fill="#D95319" text-anchor="middle">Estimated JSR [dB]</text>
<rect x="248.6" y="124.4" width="62.8" height="88.6" fill="#fff" stroke="#cfcfcf" stroke-width="1"/>
<path d="M249.9 132.8H270.6" stroke="#0072BD" stroke-width="2.2" fill="none"/>
<text x="272.8" y="137.8" font-size="11" fill="#262626">12-bit</text>
<path d="M249.9 147.3H270.6" stroke="#D95319" stroke-width="1.9" stroke-dasharray="5 1.2 2.7 1.2" fill="none"/>
<text x="272.8" y="152.3" font-size="11" fill="#262626">8-bit</text>
<path d="M249.9 161.8H270.6" stroke="#EDB120" stroke-width="1.9" stroke-dasharray="5.5 4.5" fill="none"/>
<text x="272.8" y="166.8" font-size="11" fill="#262626">4-bit</text>
<path d="M249.9 176.3H270.6" stroke="#7E2F8E" stroke-width="1.8" stroke-dasharray="1.6 1.6" fill="none"/>
<text x="272.8" y="181.3" font-size="11" fill="#262626">no IM</text>
<path d="M249.9 190.8H270.6" stroke="#77AC30" stroke-width="1.7" stroke-dasharray="1.5 1.5" fill="none"/>
<text x="272.8" y="195.8" font-size="11" fill="#262626">LowRx</text>
<path d="M249.9 205.3H270.6" stroke="#4DBEEE" stroke-width="1.6" stroke-dasharray="1.3 1.3" fill="none"/>
<text x="272.8" y="210.3" font-size="11" fill="#262626">HighRx</text>
<text class="cap" x="100" y="279.8" font-size="14.8" fill="#1a1a1a" textLength="174" lengthAdjust="spacingAndGlyphs">(<tspan font-weight="bold">a</tspan>) Slow frequency-hopper</text>
<path d="M466.15 7.4V213.4M526.8 7.4V213.4M587.46 7.4V213.4M648.11 7.4V213.4M405.5 183.97H684.5M405.5 154.54H684.5M405.5 125.11H684.5M405.5 95.69H684.5M405.5 66.26H684.5M405.5 36.83H684.5" stroke="#eef0f3" stroke-width="0.9" fill="none"/>
<polyline points="405.68,197.85 406.53,195.62 408.08,194.79 408.93,192.56 410.48,191.73 411.33,189.5 412.88,188.68 413.73,186.45 415.28,185.62 416.13,183.39 417.68,182.56 418.53,180.33 420.09,179.5 420.94,177.27 422.49,176.44 423.34,174.21 424.89,173.39 425.74,171.16 427.29,170.33 428.14,168.1 429.69,167.27 430.54,165.04 432.09,164.21 432.94,161.98 434.5,161.15 435.35,158.92 436.9,158.09 437.75,155.87 439.3,155.04 440.15,152.81 441.7,151.98 442.55,149.75 444.1,148.92 444.95,146.69 446.5,145.86 447.35,143.63 448.91,142.8 449.76,140.57 451.31,139.75 452.16,137.52 453.71,136.69 454.56,134.46 456.11,133.63 456.96,131.4 458.51,130.57 459.36,128.34 460.91,127.51 461.77,125.28 463.32,124.46 464.17,122.23 465.72,121.4 466.57,119.17 468.12,118.34 468.97,116.11 470.52,115.28 471.37,113.05 472.92,112.22 473.77,109.99 475.32,109.16 476.18,106.94 477.73,106.11 478.58,103.88 480.13,103.05 480.98,100.82 482.53,99.99 483.38,97.76 484.93,96.93 485.78,94.7 487.33,93.87 488.18,91.64 489.73,90.82 490.59,88.59 492.14,87.76 492.99,85.53 494.54,84.7 495.39,82.47 496.94,81.64 497.79,79.41 499.34,78.58 500.19,76.35 501.74,75.53 502.59,73.3 504.15,72.47 505,70.24 506.55,69.41 507.4,67.18 508.95,66.35 509.8,64.12 511.35,63.29 512.2,61.06 513.75,60.23 514.6,58.01 516.15,57.18 517,54.95 518.56,54.12 519.41,51.89 520.96,51.06 521.81,48.83 523.36,48 524.21,45.77 525.76,44.94 526.61,42.71 528.16,41.89 529.01,39.66 530.56,38.83 531.41,36.6 532.97,35.77 533.82,33.54 535.37,32.71 536.22,30.48 537.77,29.65 538.62,27.42 540.17,26.6 541.02,24.37 542.57,23.54 543.42,21.31 544.97,20.48 546.17,18.95 547.03,19.8 548.59,22.04 549.44,22.89 551,25.14 551.85,25.99 553.41,28.23 554.26,29.08 555.82,31.33 556.67,32.18 558.23,34.42 559.08,35.27 560.64,37.52 561.49,38.37 563.05,40.61 563.9,41.46 565.46,43.71 566.31,44.56 567.87,46.8 568.73,47.65 570.28,49.9 571.14,50.74 572.69,52.99 573.55,53.84 575.1,56.09 575.96,56.93 577.51,59.18 578.37,60.03 579.92,62.28 580.78,63.12 582.33,65.37 583.19,66.22 584.74,68.47 585.6,69.31 587.15,71.56 588.01,72.41 589.56,74.66 590.42,75.5 591.97,77.75 592.83,78.6 594.39,80.84 595.24,81.69 596.8,83.94 597.65,84.79 599.21,87.03 600.06,87.88 601.62,90.13 602.47,90.98 604.03,93.22 604.88,94.07 606.44,96.32 607.29,97.17 608.85,99.41 609.7,100.26 611.26,102.51 612.11,103.36 613.67,105.6 614.53,106.45 616.08,108.7 616.94,109.54 618.49,111.79 619.35,112.64 620.9,114.89 621.76,115.73 623.31,117.98 624.17,118.83 625.72,121.08 626.58,121.92 628.13,124.17 628.99,125.02 630.54,127.27 631.4,128.11 632.95,130.36 633.81,131.21 635.36,133.46 636.22,134.3 637.77,136.55 638.63,137.4 640.19,139.64 641.04,140.49 642.6,142.74 643.45,143.59 645.01,145.83 645.86,146.68 647.42,148.93 648.27,149.78 649.83,152.02 650.68,152.87 652.24,155.12 653.09,155.97 654.65,158.21 655.5,159.06 657.06,161.31 657.91,162.16 659.47,164.4 660.33,165.25 661.88,167.5 662.74,168.34 664.29,170.59 665.15,171.44 666.7,173.69 667.56,174.53 669.11,176.78 669.97,177.63 671.52,179.88 672.38,180.72 673.93,182.97 674.79,183.82 676.34,186.07 677.2,186.91 678.75,189.16 679.61,190.01 681.16,192.26 682.02,193.1 683.4,195" fill="none" stroke="#C9581F" stroke-width="1.35" stroke-linejoin="round"/>
<polyline points="405.59,40.95 407.19,39.88 408.79,42.67 410.39,40.63 411.98,41.21 413.98,40.11 415.98,41.85 417.97,41.33 419.97,43.6 421.47,43.67 422.97,44.25 424.47,42.51 425.96,44.35 426.96,44.26 427.96,48.3 428.96,49.28 429.96,51.3 430.96,50.3 431.96,51.66 432.95,52.39 433.95,53.62 435.95,53.96 437.95,57.15 439.44,55.83 440.94,55.97 442.44,53.79 443.94,54.4 445.54,53.79 447.13,55.79 448.73,54.13 450.33,55.66 451.93,53.88 453.53,55.07 455.12,54.14 456.72,53.98 458.32,53.12 459.92,55.18 461.51,52.37 463.11,53.93 464.71,54.81 466.31,53.95 467.9,51.58 469.5,53.55 471.1,52.44 472.7,54.67 474.3,52.98 475.89,53.13 477.39,52.26 478.89,54.44 480.39,52.59 481.89,53.6 483.38,51.32 484.88,51.05 486.38,51.19 487.88,53.02 489.37,52.53 490.87,54.28 492.37,54.12 493.87,55.16 495.37,55.42 496.86,57.04 498.36,57.22 499.86,57.94 501.46,55.82 503.06,57.14 504.65,55.12 506.25,54.84 507.85,53.84 509.35,56.01 510.84,55.42 512.34,57.71 513.84,55.8 515.84,57.77 517.84,55.11 518.83,56.65 519.83,60.12 520.83,61.38 521.83,61.82 522.83,65.08 523.83,64.26 524.83,67.69 524.94,67.32 525.06,69.12 525.18,70.91 525.3,72.28 525.41,73.98 525.53,77.56 525.65,76.38 525.77,80.01 525.88,79.92 526,83.3 526.12,83 526.24,86.3 526.35,86.23 526.47,89.23 526.59,88.33 526.7,92.77 526.82,91.39 527.04,95.7 527.25,96.64 527.46,98.14 527.68,98.44 527.89,101.31 528.11,103.04 528.32,104.32 528.53,104.11 528.75,106.08 528.96,109.09 529.18,110.59 529.39,111.24 529.6,113.16 529.82,114.26 530.15,117.15 530.48,118.85 530.82,120.36 531.15,120.49 531.48,123.66 531.82,123.74 532.02,127.15 532.21,126.71 532.41,130.29 532.61,132.85 532.81,133.54 533.01,134.1 533.21,137.18 533.41,138.33 533.61,140.73 533.81,141.56 533.99,143.46 534.18,143.28 534.36,144.35 534.54,146.18 534.72,149.35 534.9,149.08 535.08,153.14 535.27,154.05 535.45,156.31 535.63,154.9 535.81,157.93" fill="none" stroke="#0072BD" stroke-width="2.2" stroke-linejoin="round"/>
<polyline points="572.56,90.88 572.58,88.39 572.6,88.79 572.62,85.32 572.64,83.27 572.66,81.64 572.68,82.29 572.71,78.37 572.73,79.52 572.75,76.2 572.77,75.73 572.79,72.32 572.81,71.5 572.83,69.66 572.85,69.76 572.87,68.12 572.89,66.9 572.92,63.08 572.94,61.07 572.96,62.23 574.96,59.77 576.95,59.18 578.95,57.28 580.95,57.33 582.94,58.54 584.44,57.7 585.94,59.28 587.44,56.67 588.94,58.09 590.93,55.6 592.93,56.47 594.93,55.65 596.53,55.45 598.12,57.45 599.72,55.04 601.32,55.25 602.92,54.75 604.91,54.81 606.91,57.37 608.91,56.75 610.41,55.88 611.9,55.62 613.4,54.56 614.9,51.85 616.9,53.24 618.89,52.57 620.89,51.13 622.89,49.59 624.89,52.15 626.88,51.87 628.88,50.81 630.88,51.53 631.88,54.48 632.87,55.17 633.87,56.29 634.87,56.34 636.87,57.84 638.87,56.57 640.2,60.24 641.53,58.72 642.86,61.82 643.26,58.87 643.66,58.83 644.06,55.58 644.46,55.82 644.86,53.41 646.85,52.46 648.85,53.11 650.18,54.25 651.51,57.2 652.85,58.31 654.84,56.6 656.84,57.78 658.84,58.06 660.84,58.8 661.83,57.05 662.83,56.02 663.83,52.39 664.83,51.51 666.83,50.48 668.82,48.62 670.16,47.94 671.49,48.74 672.82,45.56 674.32,46.99 675.81,44.23 677.31,46.42 678.81,43.51 680.67,45.21 682.54,43.17 684.4,42.94" fill="none" stroke="#0072BD" stroke-width="2.2" stroke-linejoin="round"/>
<polyline points="405.59,45.94 407.19,45.75 408.79,46.96 410.39,45.92 411.98,45.73 413.58,45.46 415.18,48.35 416.78,46.35 418.37,48.64 419.97,48.39 421.57,49.73 423.17,47.96 424.77,50.62 426.36,47.93 427.96,48.49 429.56,50.65 431.16,48.98 432.75,48.4 434.35,50.86 435.95,51.11 437.55,50.77 439.15,49.83 440.74,51.57 442.34,50.05 443.94,51.56 445.54,49.4 447.13,50.06 448.73,51.01 450.33,52.22 451.93,53.28 453.53,52.92 455.12,53.19 456.72,51.75 458.32,52.34 459.92,52 461.51,52.14 463.11,52.31 464.71,50.98 466.31,50.87 467.9,53.26 469.4,50.67 470.9,50.65 472.4,54.39 473.9,51.26 474.9,55.97 475.89,56.62 476.89,57.36 477.89,56.43 478.89,60.27 479.89,58.76 480.89,62.83 481.89,61.87 483.38,64.89 484.88,64.47 485.1,67.72 485.32,67.39 485.55,70.5 485.77,71.67 485.99,73.77 486.21,72.5 486.43,76.2 486.66,76.52 486.88,79.43 487.1,80.04 487.32,82.52 487.54,84.95 487.77,83.4 487.99,85.94 488.21,89.78 488.43,88.91 488.65,92.98 488.88,91.45 488.95,92.75 489.02,94.53 489.09,99.27 489.16,97.82 489.23,101.52 489.3,101.94 489.37,105.73 489.45,104.22 489.52,108.24 489.59,107.02 489.66,110.86 489.73,111.34 489.8,114.51 489.87,113.26 490.04,117.35 490.21,117.95 490.37,121.72 490.54,120.47 490.71,124.47 490.87,124.38 490.98,127.85 491.09,127.65 491.2,128.38 491.3,129.51 491.41,132.27 491.52,135.22 491.63,136.99 491.73,136.22 491.84,139.95 491.95,140.77 492.06,142.37 492.16,142.82 492.27,145.68 492.43,145.28 492.59,147.64 492.75,148.03 492.91,153.12 493.07,152.35 493.23,155.61 493.39,154.86 493.55,158.67 493.71,158.21 493.87,162.1 494.4,161.85 494.93,163.45 495.47,165.91" fill="none" stroke="#D95319" stroke-width="1.9" stroke-dasharray="5 1.2 2.7 1.2" stroke-linejoin="round"/>
<polyline points="618.89,87.88 618.89,87.38 618.89,84.11 618.89,82.7 618.89,82.25 618.89,78.54 618.89,77.16 618.89,75.31 618.89,73.6 618.89,74.42 618.89,72.86 618.89,69.83 618.89,70.45 618.89,66.47 618.89,66.83 618.89,63.26 618.89,64.12 619.39,59.95 619.89,59.4 620.39,59.18 620.89,58.24 622.89,57.07 624.89,54.51 626.88,53.88 628.88,55.83 630.88,53.96 632.37,54.75 633.87,52.31 635.37,53.12 636.87,53.21 638.37,50.79 639.86,50.39 641.36,49.49 642.86,48.33 644.36,51.84 645.86,49.85 647.35,53.18 648.85,50.5 650.85,51.23 652.85,50.6 654.84,53 656.34,50.29 657.84,52.23 659.34,49.95 660.84,51.5 662.33,48.84 663.83,49.56 665.33,48.48 666.83,49.51 668.32,48.06 669.82,47.55 671.32,49.42 672.82,49.53 674.32,45.68 675.81,48.33 677.31,45.83 678.81,46.47 680.67,43.87 682.54,46.67 684.4,44.94" fill="none" stroke="#D95319" stroke-width="1.9" stroke-dasharray="5 1.2 2.7 1.2" stroke-linejoin="round"/>
<polyline points="405.59,59.92 407.19,59.57 408.79,60.49 410.39,59.7 411.98,60.22 413.58,59.81 415.18,60.04 416.78,60 418.37,61.28 419.97,60.22 421.47,61.01 422.97,61.21 424.47,60.61 425.96,59.39 427.3,60.78 428.63,62.99 429.96,64.53 431.96,64.48 433.95,63.17 435.95,64.25 437.45,64.95 438.95,64.87 440.44,65.22 441.94,64.72 443.14,66.63 444.34,66.81 445.54,68.7 446.73,70.08 447.93,70.45 449.26,72.56 450.6,73.74 451.93,75.39 452.5,73.98 453.07,71.26 453.64,70.97 454.21,69.59 454.78,68.02 455.35,65.84 455.92,65.58 457.92,65.5 459.92,67.33 460.91,67.84 461.91,69.93 462.91,70.14 463.91,72.67 465.11,73.45 466.31,74.59 467.51,76.2 468.7,77.03 469.9,78.16 470.57,79.67 471.23,80.29 471.9,82.96 472.57,83.65 473.23,85.57 473.9,86.52 474.5,88.48 475.09,89.17 475.69,90.73 476.29,92.7 476.89,94.25 477.49,94.74 478.09,97.19 478.69,98.7 479.29,99.94 479.89,101.54 480.89,103.07 481.89,104.15 482.88,105.97 483.88,107.03 484.28,107.85 484.68,109.93 485.08,111.02 485.48,113.59 485.88,114.33 486.21,117.2 486.55,118.54 486.88,119.23 487.21,122.13 487.54,122.57 487.88,124.24 488.11,125.89 488.34,127.4 488.57,129.37 488.8,131.49 489.03,133.42 489.26,134.95 489.49,135.33 489.72,137.79 489.95,138.13 490.18,140.95 490.41,141.24 490.64,143.18 490.87,144.28 490.98,146.95 491.09,147.81 491.2,150.23 491.3,150.92 491.41,152.14 491.52,153.97 491.63,155.03 491.73,157.78 491.84,159.16 491.95,160.14 492.06,161.61 492.16,163.11 492.27,165.31 492.33,167.05 492.39,168.17 492.46,169.34 492.52,171.62 492.58,173.14 492.64,174.74 492.7,175.18 492.76,177.6 492.82,178.41 492.89,180.53 492.95,182.02 493.01,183.54 493.07,184.41 493.09,186.01 493.11,187.24 493.13,189.88 493.15,191.59 493.17,193.02 493.2,194.12 493.22,195.81 493.24,196.5 493.26,198.8 493.28,199.58 493.3,202.19 493.32,202.7 493.34,204.85 493.36,205.49 493.39,207.76 493.41,209.55 493.43,210.74 493.45,211.55 493.47,213.45" fill="none" stroke="#EDB120" stroke-width="1.9" stroke-dasharray="5.5 4.5" stroke-linejoin="round"/>
<polyline points="647.9,80 647.9,81.33 647.9,82.88 647.9,83.78 647.9,86.67 647.9,88.09 647.9,88.9 647.9,90.34 647.9,92.8 647.9,93.7" fill="none" stroke="#EDB120" stroke-width="1.9" stroke-dasharray="5.5 4.5" stroke-linejoin="round"/>
<polyline points="646.85,90.88 647.05,89.61 647.25,87.94 647.45,85.6 647.65,84.68 647.85,82.13 648.45,81.58 649.05,79.42 649.65,77.6 650.25,75.86 650.85,75.48 651.85,72.85 652.85,72.69 653.84,70.81 654.84,69.6 656.84,67.49 658.84,67.64 660.84,65.35 662.83,64.64 664.16,62.91 665.5,62.73 666.83,61.16 668.82,60.42 670.82,58.64 672.32,59.75 673.82,59.74 675.31,60.93 676.81,60.67 678.33,61.66 679.85,61.43 681.37,62.58 682.88,61.84 684.4,62.92" fill="none" stroke="#EDB120" stroke-width="1.9" stroke-dasharray="5.5 4.5" stroke-linejoin="round"/>
<polyline points="405.59,42.94 407.19,42.29 408.79,44.08 410.39,44.28 411.98,43.34 413.58,42.79 415.18,42.78 416.78,43.03 418.37,43.22 419.97,45.07 421.47,45.15 422.97,44.81 424.47,43.8 425.96,43.89 426.76,46.59 427.56,47.48 428.36,49.83 429.16,50.18 429.96,52.97 431.16,52.48 432.35,54.72 433.55,54.03 434.75,56.6 435.95,57.74 437.28,58.58 438.61,59.23 439.94,61.6 440.39,61.84 440.83,65.19 441.28,65.11 441.72,67.72 442.16,67.64 442.61,69.88 443.05,71.22 443.49,73.9 443.94,74.11 444.74,77.44 445.54,78.93 446.34,80.73 447.13,80.1 447.93,82.29 448.43,84.11 448.93,86.56 449.43,87.5 449.93,90.72 450.43,92.03 450.93,93.72 451.15,92.11 451.37,90.32 451.59,87.08 451.82,86.91 452.04,83.97 452.26,83.06 452.48,82.72 452.7,80.95 452.93,78.45 453.01,77.04 453.09,74.79 453.18,73.53 453.26,72 453.34,70.49 453.43,69.52 453.51,69.05 453.59,66.52 453.67,65.66 453.76,62.93 453.84,62.76 453.92,60.66 455.26,62.62 456.59,64.26 457.92,65.73 458.49,65.24 459.06,68.94 459.63,70.34 460.2,71.4 460.77,71.57 461.34,73.93 461.91,76 462.48,77.49 463.05,78.83 463.63,78.55 464.2,81.62 464.77,80.86 465.34,82.77 465.91,85.43 466.41,85.91 466.91,88.85 467.41,89.88 467.9,90.53 468.4,91.9 468.9,94.21 469.33,91.94 469.76,91.63 470.19,88.76 470.62,87.96 471.04,85.31 471.47,83.3 471.9,83.64 474.9,83.62 475.02,84.83 475.14,86.6 475.27,86.75 475.39,89.41 475.52,89.26 475.64,91.44 475.77,93 475.89,95.91 476.05,95.85 476.2,96.87 476.35,100.71 476.51,101.39 476.66,101.83 476.82,103.84 476.97,104.91 477.12,106.78 477.28,107.84 477.43,111.19 477.58,112.37 477.74,113.83 477.89,113.99 478.06,115.88 478.22,119.38 478.39,120.35 478.56,120.78 478.72,123.63 478.89,124.33 479.14,125.73 479.39,127.6 479.64,129.85 479.89,130.07 480.14,132.96 480.39,133.23 480.64,135.71 480.89,136.62 481.11,139.46 481.33,139.02 481.55,142 481.77,143.67 482,145.43 482.22,146.99 482.44,148.54 482.66,148.56 482.88,149.96 483.11,151.66 483.33,155.14 483.55,154.73 483.77,158.31 483.99,159.73 484.22,160.67 484.44,162.17 484.66,163.78 484.88,164.25 485.08,165.83 485.28,166.85 485.48,170.17 485.68,169.85 485.88,172.76 486.08,172.88 486.28,176.51 486.48,175.9 486.68,177.85 486.88,179.9" fill="none" stroke="#7E2F8E" stroke-width="1.8" stroke-dasharray="1.6 1.6" stroke-linejoin="round"/>
<polyline points="628.88,116.98 628.88,114.36 628.88,114.12 628.88,111.25 628.88,110.82 628.88,107.92 628.88,107.07 628.88,105.78 629.28,103.74 629.68,101.33 630.08,100.53 630.48,97.88 630.88,96.52 631.28,94.64 631.68,93.29 632.08,91.64 632.47,91.22 632.87,88.25 633.44,87.78 634.02,85.4 634.59,83.93 635.16,82.58 635.73,82.32 636.3,79.42 636.87,79.14 637.44,76.42 638.01,75.01 638.58,74.32 639.15,73.71 639.72,71.43 640.29,69.72 640.86,68.45 641.61,68.45 642.36,66.31 643.11,64.79 643.86,63.77 643.96,63.35 644.06,64.91 644.16,68.39 644.26,68.34 644.36,70.62 644.46,72.89 644.56,74.64 644.66,74.79 644.76,78.06 644.86,78.15 645.06,81.31 645.26,81.12 645.46,84.45 645.66,84.65 645.86,87.6 646.06,87.87 646.26,89.82 646.46,91.31 646.65,94.16 646.85,93.83 647.85,94.56 648.85,90.81 649.85,91.36 650.85,87.99 651.65,86.95 652.45,84.5 653.25,84.8 654.04,81.38 654.84,81.53 655.64,78.3 656.44,76.9 657.24,77.28 658.04,75.56 658.84,71.73 659.28,72.35 659.73,68.6 660.17,67.34 660.61,65.98 661.06,66.05 661.5,63.85 661.94,62.37 662.39,60.23 662.83,59.96 663.83,56.33 664.83,56.51 665.83,53.87 666.83,52.03 668.02,51.42 669.22,51.7 670.42,48.79 671.62,48.63 672.82,45.78 674.32,44.86 675.81,44.25 677.31,44.68 678.81,41.82 680.67,43.45 682.54,41.38 684.4,41.95" fill="none" stroke="#7E2F8E" stroke-width="1.8" stroke-dasharray="1.6 1.6" stroke-linejoin="round"/>
<polyline points="405.59,59.92 407.19,59.29 408.79,60.32 410.39,59.16 411.98,60.11 413.58,60.09 415.18,60.7 416.78,60.18 418.37,60.28 419.97,59.73 421.97,61.08 423.97,60.44 424.97,63.2 425.96,63.34 426.96,64.74 427.96,66.31 428.76,68.72 429.56,69.31 430.36,71.36 431.16,72.91 431.96,75.65 433.15,75.58 434.35,77.76 435.55,77.78 436.75,80.36 437.95,80.43 438.95,82.78 439.94,84.13 440.94,85.92 441.94,86.16 442.51,88.65 443.08,89.04 443.65,91.65 444.22,92.14 444.79,93.32 445.37,95.1 445.94,96.44 446.43,97.73 446.93,100.37 447.43,101.94 447.93,103.47 448.13,101.5 448.33,100.23 448.53,97.88 448.73,96.09 448.93,94.38 449.13,93.03 449.33,92.18 449.53,90.51 449.73,87.71 449.93,87.68 450.26,84.48 450.6,83.24 450.93,81.11 451.26,79.88 451.59,77.82 451.93,77.15 453.92,79.6 454.32,80.67 454.72,81.35 455.12,83.87 455.52,85.09 455.92,86.69 456.72,88.02 457.52,90.39 458.32,91.21 459.12,93.73 459.92,94.59 461.25,96.68 462.58,97.3 463.91,99.44 464.71,100.25 465.51,102.5 466.31,103.29 467.11,105.56 467.9,106.41 468.4,108.32 468.9,111.15 469.4,112.5 469.9,114.55 470.9,113.74 470.9,114.52 470.9,116.61 470.9,117.85 470.9,120.45 470.9,120.86 470.9,123.5 470.9,124.48 472.9,126.22 474.9,126.32 476.14,127.2 477.39,128.39 478.64,130.47 479.89,130.61 480.89,132.94 481.89,133.6 482.88,136.04 483.88,137.23 484.28,137.93 484.68,139.58 485.08,141.42 485.48,142.81 485.88,145.4 486.13,146.26 486.38,148.24 486.63,149.12 486.88,151.73 487.13,152.64 487.38,154.24 487.63,155.19 487.88,157.21 488.63,159.01 489.37,159.74 490.12,160.62 490.87,163.19 491.87,163.4 492.87,165.53 493.87,166.11 494.87,166.95 495.87,168.68 496.61,167.94 497.36,165.33 498.11,164.66 498.86,163.6 500.86,161.69 501.86,162 502.86,164.55 503.85,165.68 505.85,166.79 507.85,166.23 508.6,169.16 509.35,170.24 510.1,171.82 510.84,172.12 511.22,174.65 511.59,175.61 511.97,176.96 512.34,178.35 512.72,181.03 513.09,181.41 513.47,184.12 513.84,185.22 514.01,186.17 514.17,187.77 514.34,190.54 514.51,190.94 514.67,193.81 514.84,194.28 514.89,196.96 514.94,197.54 514.99,200.01 515.04,200.45 515.09,203.26 515.14,203.97 515.19,205.94 515.24,206.74 515.29,209.19 515.34,209.89 515.39,212.69 515.44,213.2 515.78,212.3 516.12,209.69 516.47,209.16 516.81,206.65 517.15,206.05 517.49,204.87 517.84,202.35 518.12,203.73 518.41,206.11 518.69,207.95 518.98,209.58 519.26,210.23 519.55,211.66 519.83,213.45" fill="none" stroke="#77AC30" stroke-width="1.7" stroke-dasharray="1.5 1.5" stroke-linejoin="round"/>
<polyline points="623.89,213.45 623.89,211.17 623.89,211.06 623.89,208.1 623.89,206.78 623.89,205.86" fill="none" stroke="#77AC30" stroke-width="1.7" stroke-dasharray="1.5 1.5" stroke-linejoin="round"/>
<polyline points="662,116 662.12,114.04 662.25,112.11 662.38,110.45 662.5,110.19 662.62,107.5 662.75,105.86 662.88,103.9 663,103.7 663.25,104.38 663.5,106.92 663.75,107.32 664,108.76 664.25,110.8 664.5,112.56 664.75,113.62 665,116.23 665.22,114.72 665.44,113.06 665.67,111.79 665.89,109.51 666.11,107.5 666.33,107.08 666.56,104.7 666.78,104.33 667,101.37 667.22,103.85 667.44,104.43 667.67,107.39 667.89,107.89 668.11,110.11 668.33,110.77 668.56,113.26 668.78,113.82 669,116.39 669.12,114.13 669.25,113.5 669.38,111.79 669.5,110.2 669.62,107.67 669.75,106.62 669.88,104.28 670,102.59 670.12,104.34 670.25,106.56 670.38,107.64 670.5,110.22 670.62,111.48 670.75,112.03 670.88,114.9 671,116.17 671,113.82 671,113.1 671,110.69 671,110.34 671,107.22 672,106.96 673,104.92 674,104.01 675,102.86 676,100.64 677.33,99.16 678.67,99.03 680,97.31 681,98.36 682,99.43 682.83,99.29 683.67,96.97 684.5,96" fill="none" stroke="#77AC30" stroke-width="1.7" stroke-dasharray="1.5 1.5" stroke-linejoin="round"/>
<polyline points="405.59,50.93 407.19,51.45 408.79,50.84 410.39,49.81 411.98,50.71 413.48,49.52 414.98,50.03 416.48,49.36 417.97,49.23 419.47,49.05 420.97,50.49 422.47,49.82 423.97,51.29 425.3,51.8 426.63,53.03 427.96,54.73 429.16,55.59 430.36,56.53 431.56,58.29 432.75,58.32 433.95,60.54 435.45,59.63 436.95,59.3 438.45,57.77 439.94,58.5 441.54,58.6 443.14,58.99 444.74,58.42 446.34,59.14 447.93,60.23 449.53,60.33 451.13,59.57 452.73,61.22 454.32,60.22 455.92,61.51 457.52,61.45 459.12,60.77 460.71,62.12 462.31,62.07 463.91,61.38 465.51,62.09 467.11,61.39 468.7,62.36 470.3,61.48 471.9,62.11 473.23,62.27 474.56,64.1 475.89,63.81 477.23,64.46 478.56,65.71 479.89,67.63 481.09,68.43 482.28,69.56 483.48,69.71 484.68,70.92 485.88,72.62 487.38,74.39 488.88,74.38 490.37,76.62 491.87,76.71 493.37,78.16 494.87,79.43 496.37,80.12 497.86,80.44 499.86,82.17 501.86,82.17 502.36,82.12 502.86,79.33 503.36,77.64 503.85,76.19 505.19,78.4 506.52,78.53 507.85,80.18 508.85,80.59 509.85,83.1 510.84,83.01 511.84,84.26 512.59,87.06 513.34,88.59 514.09,89.63 514.84,90.2 515.44,92.26 516.04,94.54 516.64,94.91 517.24,96.96 517.84,98.16 518.63,100.65 519.43,101.56 520.23,104.43 521.03,104.76 521.83,107.61 522.43,108.01 523.03,109.43 523.63,112.38 524.23,114.15 524.83,114.7 524.9,115.79 524.98,117.93 525.06,119.88 525.13,120.78 525.21,123.23 525.29,124.57 525.36,126.21 525.44,127.11 525.52,129.31 525.59,130.19 525.67,132.47 525.75,132.98 525.82,135.38 525.9,137.18 525.98,137.47 526.05,138.89 526.13,141.89 526.21,142.43 526.28,144.95 526.36,145 526.44,148.02 526.52,148.3 526.59,150.58 526.67,151.62 526.75,153.69 526.82,154.58 527.32,157.01 527.82,158.64 528.32,160.49 528.82,161.34 529.32,163.51 529.82,164.48 530.32,167.19 530.82,168 531.32,170.55 531.82,171.25 532.31,173.91 532.81,174.45 533.38,176.99 533.96,178.51 534.53,179.62 535.1,180.29 535.67,182.71 536.24,184.01 536.81,185.67 537.31,186.78 537.81,187.44 538.31,190.58 538.81,191.12 539.3,193.58 539.8,194.61 540.18,196.6 540.55,198.6 540.93,198.73 541.3,201.1 541.68,203.1 542.05,203.52 542.43,204.82 542.8,207.58 543.3,208.9 543.8,209.14 544.3,210.56 544.8,212.61 545.9,211.04 546.99,210.04 548.49,210.07 549.99,208.83 551.49,209.5 552.99,208.31 553.43,206.82 553.87,206.12 554.32,203.72 554.76,202.07 555.21,200.29 555.65,200.32 556.09,197.42 556.54,195.68 556.98,194.27 557.98,194.1 558.98,191.2 559.98,189.87 560.97,189.54 561.77,187.69 562.57,185.45 563.37,184.81 564.17,181.78 564.97,180.58 565.47,179.87 565.97,177.67 566.47,176.2 566.97,175.43 567.47,173.93 567.97,172.33 568.46,170.25 568.96,169.16 569.3,166.8 569.63,165.23 569.96,164.13 570.3,162.94 570.63,161.37 570.96,159.31 571.07,157.14 571.18,156.51 571.29,153.97 571.4,153.13 571.52,150.92 571.63,150.08 571.74,147.5 571.85,146.83 571.96,144.49 572.06,143.7 572.16,141.15 572.26,140.74 572.36,138.36 572.46,137.42 572.56,134.58 572.66,133.18 572.76,132.43 572.86,129.9 572.96,128.48 573.18,127.69 573.4,125.7 573.62,123.73 573.85,122.09 574.07,121.44 574.29,119.01 574.51,118.4 574.73,116.01 574.96,115.66 575.7,113.26 576.45,111.7 577.2,109.78 577.95,109.24 578.95,107.16 579.95,105.75 578.45,105.45 576.95,107.37 577.45,105.12 577.95,103.22 578.45,101.97 578.95,100.38 579.45,99.14 579.95,97.44 580.45,96.06 580.95,95.56 581.75,92.88 582.54,91.93 583.34,89.39 584.14,88.93 584.94,86.55 585.94,84.97 586.94,84.65 587.94,83.07 588.94,81.3 589.93,80.73 590.93,79.55 592.93,80.44 594.93,80.44 596.26,82.49 597.59,83.31 598.92,85.66 600.25,83.23 601.58,81.58 602.92,80.71 604.06,80.23 605.2,78.15 606.34,78.1 607.48,76.08 608.62,75.81 609.76,74.74 610.9,72.2 612.9,73.37 614.9,75.32 615.9,74.08 616.9,72.13 617.9,69.75 618.89,69.48 620.23,68.37 621.56,66.83 622.89,64.56 624.39,64.2 625.88,62.48 627.38,62.28 628.88,61.19 630.38,60.71 631.88,58.74 633.37,57.89 634.87,57.59 636.47,58.65 638.07,57.53 639.66,59.31 641.26,59.13 642.86,59.39 644.46,59.36 646.06,58.83 647.65,58.93 649.25,57.82 650.85,57.2 652.45,58.52 654.04,59.05 655.64,58.62 657.24,59.85 658.84,60.27 660.17,59.59 661.5,59.05 662.83,58.01 664.16,56.15 665.5,55.04 666.83,55.52 668.32,54.63 669.82,53.48 671.32,52.23 672.82,51.17 674.47,51.16 676.13,50.97 677.78,49.76 679.44,49.58 681.09,50.6 682.75,50.71 684.4,49.93" fill="none" stroke="#4DBEEE" stroke-width="1.6" stroke-dasharray="1.3 1.3" stroke-linejoin="round"/>
<path d="M405.5 7.4H684.5" stroke="#a9a9a9" stroke-width="1.1" fill="none"/>
<path d="M405.5 213.4H684.5" stroke="#939393" stroke-width="1.1" fill="none"/>
<path d="M405.5 7.4V213.4" stroke="#6eaee0" stroke-width="1" fill="none"/>
<path d="M684.5 7.4V213.4" stroke="#eda07e" stroke-width="1" fill="none"/>
<path d="M466.15 7.4v2.8M466.15 213.4v-2.8M526.8 7.4v2.8M526.8 213.4v-2.8M587.46 7.4v2.8M587.46 213.4v-2.8M648.11 7.4v2.8M648.11 213.4v-2.8" stroke="#555" stroke-width="0.8" fill="none"/>
<path d="M405.5 183.97h2.8M405.5 154.54h2.8M405.5 125.11h2.8M405.5 95.69h2.8M405.5 66.26h2.8M405.5 36.83h2.8" stroke="#5aa0d8" stroke-width="0.8" fill="none"/>
<path d="M684.5 187.65h-2.8M684.5 161.9h-2.8M684.5 136.15h-2.8M684.5 110.4h-2.8M684.5 84.65h-2.8M684.5 58.9h-2.8M684.5 33.15h-2.8" stroke="#e8926a" stroke-width="0.8" fill="none"/>
<text x="400.7" y="218" font-size="10.6" fill="#0072BD" text-anchor="end">20</text>
<text x="400.7" y="188.57" font-size="10.6" fill="#0072BD" text-anchor="end">25</text>
<text x="400.7" y="159.14" font-size="10.6" fill="#0072BD" text-anchor="end">30</text>
<text x="400.7" y="129.71" font-size="10.6" fill="#0072BD" text-anchor="end">35</text>
<text x="400.7" y="100.29" font-size="10.6" fill="#0072BD" text-anchor="end">40</text>
<text x="400.7" y="70.86" font-size="10.6" fill="#0072BD" text-anchor="end">45</text>
<text x="400.7" y="41.43" font-size="10.6" fill="#0072BD" text-anchor="end">50</text>
<text x="400.7" y="12" font-size="10.6" fill="#0072BD" text-anchor="end">55</text>
<text x="688.3" y="217.8" font-size="10.6" fill="#D95319">-10</text>
<text x="688.3" y="192.05" font-size="10.6" fill="#D95319">0</text>
<text x="688.3" y="166.3" font-size="10.6" fill="#D95319">10</text>
<text x="688.3" y="140.55" font-size="10.6" fill="#D95319">20</text>
<text x="688.3" y="114.8" font-size="10.6" fill="#D95319">30</text>
<text x="688.3" y="89.05" font-size="10.6" fill="#D95319">40</text>
<text x="688.3" y="63.3" font-size="10.6" fill="#D95319">50</text>
<text x="688.3" y="37.55" font-size="10.6" fill="#D95319">60</text>
<text x="688.3" y="11.8" font-size="10.6" fill="#D95319">70</text>
<text x="405.5" y="228.9" font-size="10.6" fill="#262626" text-anchor="middle">0</text>
<text x="466.15" y="228.9" font-size="10.6" fill="#262626" text-anchor="middle">5</text>
<text x="526.8" y="228.9" font-size="10.6" fill="#262626" text-anchor="middle">10</text>
<text x="587.46" y="228.9" font-size="10.6" fill="#262626" text-anchor="middle">15</text>
<text x="648.11" y="228.9" font-size="10.6" fill="#262626" text-anchor="middle">20</text>
<text x="545" y="243.4" font-size="12.2" fill="#262626" text-anchor="middle">Time [min]</text>
<text transform="translate(379,110.4) rotate(-90)" font-size="12" fill="#0072BD" text-anchor="middle">C/N<tspan font-size="10.3" dy="4.6">0</tspan><tspan dy="-4.6"> [dBHz]</tspan></text>
<text transform="translate(719,111) rotate(-90)" font-size="12" fill="#D95319" text-anchor="middle">Estimated JSR [dB]</text>
<rect x="606.2" y="118" width="62.8" height="88.5" fill="#fff" stroke="#cfcfcf" stroke-width="1"/>
<path d="M607.5 126.4H628.2" stroke="#0072BD" stroke-width="2.2" fill="none"/>
<text x="630.4" y="131.4" font-size="11" fill="#262626">12-bit</text>
<path d="M607.5 140.9H628.2" stroke="#D95319" stroke-width="1.9" stroke-dasharray="5 1.2 2.7 1.2" fill="none"/>
<text x="630.4" y="145.9" font-size="11" fill="#262626">8-bit</text>
<path d="M607.5 155.4H628.2" stroke="#EDB120" stroke-width="1.9" stroke-dasharray="5.5 4.5" fill="none"/>
<text x="630.4" y="160.4" font-size="11" fill="#262626">4-bit</text>
<path d="M607.5 169.9H628.2" stroke="#7E2F8E" stroke-width="1.8" stroke-dasharray="1.6 1.6" fill="none"/>
<text x="630.4" y="174.9" font-size="11" fill="#262626">no IM</text>
<path d="M607.5 184.4H628.2" stroke="#77AC30" stroke-width="1.7" stroke-dasharray="1.5 1.5" fill="none"/>
<text x="630.4" y="189.4" font-size="11" fill="#262626">LowRx</text>
<path d="M607.5 198.9H628.2" stroke="#4DBEEE" stroke-width="1.6" stroke-dasharray="1.3 1.3" fill="none"/>
<text x="630.4" y="203.9" font-size="11" fill="#262626">HighRx</text>
<text class="cap" x="460" y="273.6" font-size="14.8" fill="#1a1a1a" textLength="170.5" lengthAdjust="spacingAndGlyphs">(<tspan font-weight="bold">b</tspan>) Fast frequency-hopper</text>
<path d="M108.21 289.4V496.2M168.82 289.4V496.2M229.43 289.4V496.2M290.03 289.4V496.2M47.6 466.66H326.4M47.6 437.11H326.4M47.6 407.57H326.4M47.6 378.03H326.4M47.6 348.49H326.4M47.6 318.94H326.4" stroke="#eef0f3" stroke-width="0.9" fill="none"/>
<polyline points="47.77,482.25 48.63,480.02 50.17,479.19 51.03,476.95 52.58,476.12 53.43,473.89 54.98,473.06 55.83,470.82 57.38,469.99 58.23,467.76 59.77,466.93 60.63,464.69 62.17,463.86 63.03,461.63 64.58,460.8 65.42,458.56 66.98,457.73 67.83,455.5 69.38,454.67 70.23,452.43 71.77,451.6 72.63,449.37 74.17,448.54 75.03,446.3 76.58,445.47 77.42,443.24 78.97,442.41 79.83,440.17 81.38,439.34 82.23,437.11 83.77,436.28 84.63,434.04 86.17,433.21 87.03,430.98 88.58,430.15 89.42,427.91 90.98,427.08 91.83,424.85 93.38,424.02 94.23,421.78 95.77,420.95 96.62,418.72 98.17,417.89 99.03,415.65 100.58,414.82 101.43,412.59 102.98,411.76 103.83,409.52 105.38,408.69 106.23,406.46 107.77,405.63 108.63,403.39 110.17,402.56 111.03,400.33 112.58,399.5 113.42,397.26 114.98,396.43 115.83,394.2 117.38,393.37 118.23,391.13 119.77,390.3 120.63,388.07 122.17,387.24 123.02,385 124.58,384.17 125.42,381.94 126.98,381.11 127.83,378.87 129.38,378.04 130.22,375.81 131.78,374.98 132.62,372.74 134.18,371.91 135.03,369.68 136.58,368.85 137.43,366.61 138.98,365.78 139.82,363.55 141.38,362.72 142.22,360.48 143.78,359.65 144.62,357.42 146.18,356.59 147.03,354.35 148.58,353.52 149.42,351.29 150.98,350.46 151.82,348.22 153.38,347.39 154.22,345.16 155.78,344.33 156.62,342.09 158.18,341.26 159.02,339.03 160.58,338.2 161.42,335.96 162.98,335.13 163.82,332.9 165.38,332.07 166.22,329.83 167.78,329 168.62,326.77 170.18,325.94 171.03,323.7 172.58,322.87 173.43,320.64 174.98,319.81 175.82,317.57 177.38,316.74 178.22,314.51 179.78,313.68 180.62,311.44 182.18,310.61 183.02,308.38 184.58,307.55 185.42,305.31 186.98,304.48 188.18,302.95 189.03,303.78 190.58,306.02 191.44,306.85 192.99,309.09 193.84,309.92 195.4,312.15 196.25,312.99 197.8,315.22 198.66,316.06 200.21,318.29 201.06,319.12 202.62,321.36 203.47,322.19 205.02,324.42 205.88,325.26 207.43,327.49 208.28,328.33 209.84,330.56 210.69,331.39 212.24,333.63 213.1,334.46 214.65,336.7 215.5,337.53 217.06,339.76 217.91,340.6 219.47,342.83 220.32,343.67 221.87,345.9 222.73,346.73 224.28,348.97 225.13,349.8 226.69,352.04 227.54,352.87 229.09,355.1 229.95,355.94 231.5,358.17 232.35,359 233.91,361.24 234.76,362.07 236.31,364.31 237.17,365.14 238.72,367.37 239.57,368.21 241.13,370.44 241.98,371.28 243.53,373.51 244.39,374.34 245.94,376.58 246.8,377.41 248.35,379.65 249.2,380.48 250.76,382.71 251.61,383.55 253.16,385.78 254.02,386.62 255.57,388.85 256.42,389.68 257.98,391.92 258.83,392.75 260.38,394.98 261.24,395.82 262.79,398.05 263.64,398.89 265.2,401.12 266.05,401.95 267.6,404.19 268.46,405.02 270.01,407.26 270.86,408.09 272.42,410.32 273.27,411.16 274.83,413.39 275.68,414.23 277.23,416.46 278.09,417.29 279.64,419.53 280.49,420.36 282.05,422.6 282.9,423.43 284.45,425.66 285.31,426.5 286.86,428.73 287.71,429.56 289.27,431.8 290.12,432.63 291.67,434.87 292.53,435.7 294.08,437.93 294.93,438.77 296.49,441 297.34,441.84 298.89,444.07 299.75,444.9 301.3,447.14 302.16,447.97 303.71,450.21 304.56,451.04 306.12,453.27 306.97,454.11 308.52,456.34 309.38,457.18 310.93,459.41 311.78,460.24 313.34,462.48 314.19,463.31 315.74,465.54 316.6,466.38 318.15,468.61 319,469.45 320.56,471.68 321.41,472.51 322.96,474.75 323.82,475.58 325.37,477.82 326.4,479" fill="none" stroke="#C9581F" stroke-width="1.35" stroke-linejoin="round"/>
<polyline points="47.59,318.95 49.19,317.25 50.79,319.24 52.39,319.02 53.98,316.65 55.58,318.1 57.18,317.79 58.78,318.47 60.37,321.74 61.97,319.53 63.47,322.54 64.97,320.36 66.47,322.29 67.96,323.04 69.96,322.94 71.96,320.13 72.96,323.43 73.96,322.96 74.95,324.25 75.95,325.56 77.15,328.72 78.35,328.91 79.55,329.2 80.75,330.42 81.94,334.33 83.14,333.63 84.34,333.85 85.54,335.47 86.74,338.84 87.94,338.55 88.93,340.64 89.93,341.26 90.93,343.84 91.93,343.09 92.93,346.5 93.93,346.51 94.93,349.7 95.92,349.25 96.92,351.78 97.09,348.99 97.26,349.39 97.42,345.51 97.59,345.67 97.76,342.31 97.92,343.2 98.09,339.93 98.25,340.07 98.42,338.18 98.59,336.72 98.75,333.91 98.92,334.02 99.92,333.2 100.92,336.12 101.92,337.95 102.91,339.04 103.91,338.59 104.91,341.31 105.91,341.93 106.91,344.2 107.91,343.8 109.11,346.72 110.3,346.25 111.5,349.88 112.7,349.04 113.9,350.6 115.23,351.2 116.56,354.62 117.89,355.52 119.89,357.92 120.56,357.77 121.22,358.83 121.89,361 123.22,364.28 124.55,362.46 125.88,365.49 127.38,363.01 128.88,362.65 130.38,363.01 131.87,363.45 133.87,361.81 135.87,363.36 137.87,363.3 139.36,363.89 140.86,362.73 142.36,364.73 143.86,363.34 145.36,364.34 146.85,362.46 148.35,363.64 149.85,361.46 151.35,363.6 152.84,363.27 154.34,361.96 155.84,361.43 157.34,362.08 158.84,360.15 160.33,362.02 161.83,360.88 163.33,363.48 164.83,362.38 166.33,364.22 167.82,362.4 169.82,364.25 171.82,363.15 173.82,365.29 175.31,364.11 176.81,366.14 178.31,366.58 179.81,367.49 180.81,367.99 181.8,369.44 182.8,370.63 183.8,374.21 184.87,375.17 185.93,374.7 187,377.89 185.81,375.35 184.63,375.66 183.45,373.16 182.27,372.46 181.08,373.23 179.9,372.12 178.72,368.61 177.53,370.46 176.35,368.61 175.17,366.14 173.99,367.71 172.8,366.42 171.62,364.96 170.44,362.11 169.26,363.13 171.38,362.06 173.51,364.26 174.57,363.75 175.64,366.91 177.06,365.74 178.48,367.66 179.89,367.2 180.74,369.89 181.6,369.24 182.45,371.86 183.3,372.12 184.15,374.88 186.28,373.72 186.51,377.63 186.75,379.65 186.99,379.18 187.22,382.64 187.46,382.23 187.7,383.76 187.93,387.27 188.17,386.37 188.4,389.33 188.52,389.27 188.64,392.58 188.76,394.81 188.88,396.12 189,396.82 189.11,399.57 189.23,399.75 189.35,400.81 189.47,404.38 189.54,406.36 189.62,406.49 189.7,407.88 189.77,409.48 189.85,411.12 189.92,414.07 190,413.4 190.08,414.51 190.15,418.08 190.23,418.32 190.3,419.55 190.38,421.45 190.46,424.07 190.53,424.36 190.62,427.19 190.71,429.05 190.8,431.37 190.89,432.37 190.98,434.27 191.06,436.01 191.15,437.36 191.24,438.73 191.33,438.54 191.42,439.58 191.51,444.02 191.6,444.26" fill="none" stroke="#0072BD" stroke-width="2.2" stroke-linejoin="round"/>
<polyline points="194.79,410.21 194.84,408.03 194.89,406.39 194.94,405.34 194.99,403.54 195.04,401.88 195.09,401.87 195.14,398.74 195.19,399.36 195.24,395.25 195.29,396.37 195.34,392.51 195.4,392.7 195.45,391.86 195.5,387.51 195.55,386.62 195.6,385.2 195.65,383.29 195.7,384.09 195.75,380.08 195.8,381.29 195.85,377.98 196.65,378.43 197.45,381.02 198.24,382.64 199.04,384.13 199.44,387.49 199.84,386.56 200.24,388.71 200.64,390.52 201.04,391.23 201.44,394.96 201.84,396.58 202.23,396.46 202.43,397.54 202.62,401.41 202.81,402.42 203.01,403.08 203.2,406.09 203.39,405.98 203.59,408.66 203.78,409.23 203.97,412.46 204.17,412.15 204.36,413.26 204.54,416.42 204.72,418.81 204.89,418.77 205.07,420.16 205.25,423.02 205.43,424.52 205.6,424.89 205.78,426.2 205.96,429.57 206.13,431.42 206.31,431.46 206.49,434.43 206.59,433.93 206.68,437.79 206.78,438.92 206.88,440.7 206.97,440.91 207.07,441.61 207.17,443.95 207.26,444.67 207.36,447.24 207.46,450.52 207.55,450.64" fill="none" stroke="#0072BD" stroke-width="2.2" stroke-linejoin="round"/>
<polyline points="209.68,393.19 209.75,392.9 209.82,390.84 209.89,387.91 209.96,388.45 210.04,386.69 210.11,384.96 210.18,382.98 210.25,381.31 210.32,378.25 210.39,378.34 210.46,374.98 210.53,373.43 210.6,373.43 210.67,372.06 210.74,368.34 211.8,368.95 212.85,366.33 213.9,367.6 214.96,364.08 215.96,362.48 216.96,361 217.95,361.64 218.95,363.65 219.95,364.86 220.95,364.47 222.28,364.2 223.61,361.52 224.94,361.99 226.44,362.25 227.94,363.3 229.44,362.77 230.94,363.23 232.43,363.99 233.93,363.12 235.43,361.32 236.93,362.44 238.43,361.13 239.92,364.07 241.42,361.9 242.92,364.56 244.42,362.3 245.91,363.78 247.41,361.15 248.91,361.15 250.91,360.51 252.9,362.33 254.4,362.24 255.9,362.56 257.4,362 258.9,362.25 260.89,361.65 262.89,365 264.22,363.33 265.55,362.58 266.89,358.79 268.08,359.49 269.28,356.02 270.48,355.57 271.68,354.13 272.88,355.13 273.68,351.69 274.47,351.9 275.27,348.4 276.07,349.42 276.87,346.52 278.07,346.82 279.27,343.92 280.47,341.99 281.66,341.75 282.86,341.77 283.86,338.59 284.86,337.98 285.86,336.77 286.86,334.44 287.86,333.14 288.85,332.43 289.85,330.63 290.02,334.04 290.19,334.12 290.35,338.01 290.52,337.71 290.69,340.58 290.85,340 291.02,344.13 291.18,344 291.35,345.52 291.52,346.81 291.68,348.01 291.85,349.56 292.85,350.97 293.85,347.17 294.85,348.09 295.84,345.14 296.84,345.78 298.04,343.21 299.24,343.64 300.44,340.75 301.64,341.5 302.84,337.86 303.69,338.83 304.55,335.73 305.4,336.05 306.26,333.87 307.11,331.19 307.97,331.53 308.83,328.06 310.02,327.18 311.22,325.15 312.42,325.91 313.62,324.96 314.82,321.46 316.02,322.58 317.21,320.55 318.41,318.93 319.61,317.96 320.81,317.42 322.67,317.06 324.54,318.18 326.4,316.96" fill="none" stroke="#0072BD" stroke-width="2.2" stroke-linejoin="round"/>
<polyline points="47.59,321.95 49.19,322.63 50.79,323.01 52.39,321.82 53.98,323.61 55.58,323.78 57.18,322.25 58.78,322.09 60.37,324.73 61.97,322.63 63.57,325.19 65.17,322.6 66.77,324.01 68.36,322.44 69.96,322.52 70.76,325.48 71.56,327.1 72.36,329.2 73.16,330.84 73.96,330.38 75.15,333.18 76.35,332.82 77.55,333.34 78.75,336.59 79.95,335.9 80.95,337.74 81.94,341.08 82.94,340.2 83.94,343.15 84.94,342.33 85.94,345.85 86.69,345.18 87.44,349.64 88.19,348.69 88.93,351.36 89.68,350.96 90.43,355.57 91.18,354.94 91.93,358.31 93.26,356.59 94.59,361.06 95.92,360.49 96.3,359.95 96.67,358.43 97.05,356.98 97.42,353.68 97.8,355.04 98.17,353 98.55,349.3 98.92,350.35 99.92,351.3 100.92,350.17 101.92,353.32 103.11,352.53 104.31,353.57 105.51,354.72 106.71,356.66 107.91,359.9 109.41,361.32 110.9,359.68 112.4,360.59 113.9,360.86 115.4,363.63 116.9,364.76 118.39,364.79 119.89,364.42 121.22,364.9 122.55,365.87 123.89,370.55 125.38,368.91 126.88,371.33 128.38,369.02 129.88,371.27 131.87,368.18 133.87,369.89 135.37,367.82 136.87,371.49 138.37,369.06 139.86,372.37 141.06,370.5 142.26,373.51 143.46,372.67 143.48,376.19 143.51,378.44 143.54,379.76 143.56,378.95 143.59,382.3 143.62,383.77 143.64,386.03 143.67,385.47 143.7,389.08 143.72,387.7 143.75,391.58 143.78,390.72 143.8,395.04 143.83,395.11 143.86,398.5 143.86,394.64 143.86,393.99" fill="none" stroke="#D95319" stroke-width="1.9" stroke-dasharray="5 1.2 2.7 1.2" stroke-linejoin="round"/>
<polyline points="150.85,402.98 150.85,400.12 150.85,398.47 150.85,397.25 150.85,398.33 150.85,394.36 150.85,393.83 150.85,390.47 150.85,391.78 150.85,387.16 150.85,387.45 150.89,384.89 150.94,385.56 150.98,383.07 151.03,381.59 151.07,380.47 151.11,378.38 151.16,375.14 151.2,374.92 151.25,374.25 152.78,373.39 154.31,372.95 155.84,371.8 157.34,371.43 158.84,369.36 160.33,369.45 161.83,370.9 163.33,369.19 164.83,370.46 166.33,370.01 167.82,369.92 165,368.46 166.6,371.91 168.19,373.31 168.5,374.39 168.8,374.31 169.1,377.93 169.41,376.92 169.71,380.61 170.02,379.24 170.32,383.88 170.72,383.12 171.12,386.29 171.52,389.03 171.91,388.23 172.31,390.1 172.71,392.93 173.11,391.98 173.51,395.91 173.91,398.41 174.31,400.02 174.71,401.38 175.11,402.45 175.51,402.83 175.9,406.61 176.3,407.58 176.7,408.88 176.8,410.14 176.9,412.2 176.99,411.43 177.09,415.63 177.19,415.04 177.28,416.74 177.38,418.35 177.48,421.95 177.57,420.66 177.67,424.97 177.77,423.55 177.84,427.68 177.92,427.19 177.99,430.82 178.07,430.24 178.15,431.24 178.22,433.81 178.3,436.9 178.37,435.92 178.45,440.45 178.53,439.65 178.6,441.18 178.68,444.89 178.75,446.53 178.83,446.38" fill="none" stroke="#D95319" stroke-width="1.9" stroke-dasharray="5 1.2 2.7 1.2" stroke-linejoin="round"/>
<polyline points="218.19,408.09 218.19,405.41 218.19,406.08 218.19,402.04 218.19,403.07 218.19,399.24 218.19,399.12 218.19,398.76 218.19,396.53 218.19,393.53 218.19,393.19 218.19,389.14 218.19,390.33 218.19,387.16 218.19,384.75 218.19,385.41 218.19,383.98 218.19,380.49 218.19,379.11 218.19,378.87 218.9,378.13 219.61,376.36 220.32,374.55 221.03,373.33 221.74,370.4 222.45,369.33 222.95,369.65 224.44,368.54 225.94,371.58 227.44,368.84 228.94,369.87 230.54,372.65 232.13,372.64 233.73,369.53 235.33,369.63 236.93,369.54 238.53,371.55 240.12,369.41 241.72,372.45 243.32,369.81 244.92,369.29 246.51,369.45 248.11,371.23 249.71,368.24 251.31,368.63 252.9,367.51 254.9,369.56 256.9,367.8 258.9,369.94 260.89,369.63 262.89,368.18 264.89,370.67 266.22,369.17 267.55,365.53 268.88,366.34 270.08,365.3 271.28,364.19 272.48,359.6 273.68,361.87 274.87,358.02 276.37,358.32 277.87,358.28 279.37,355.49 280.87,354.44 282.46,355.28 284.06,352.68 285.66,351.02 287.26,350.82 288.85,349.28 289.65,351.7 290.45,355.62 291.25,353.94 292.05,358.78 292.85,359.53 294.35,358.6 295.84,355.32 297.34,356.56 298.84,353.8 300.04,354.56 301.24,350.97 302.44,352.12 303.63,349.1 304.83,349.64 305.58,348.19 306.33,344.36 307.08,343.81 307.83,341.14 308.58,340 309.33,338.48 310.07,337.25 310.82,338.32 311.68,334.14 312.54,334.57 313.39,331.67 314.25,330.56 315.1,328.75 315.96,329.87 316.82,328.61 318.01,326.98 319.21,323.24 320.41,324.81 321.61,321.62 322.81,322.39 324.6,320.01 326.4,321.95" fill="none" stroke="#D95319" stroke-width="1.9" stroke-dasharray="5 1.2 2.7 1.2" stroke-linejoin="round"/>
<polyline points="47.59,342.92 49.19,343.05 50.79,341.68 52.39,341.54 53.98,342.52 55.58,341.72 57.18,341.54 58.78,341.71 60.37,341.43 61.97,341.37 63.97,342.16 65.97,342.58 67.96,342.54 69.46,341.76 70.96,342.63 72.46,341.88 73.96,342.62 75.15,343.35 76.35,345.87 77.55,346.15 78.75,348.22 79.95,348.5 81.15,349.32 82.34,350.7 83.54,351.15 84.74,352.7 85.94,354.27 86.94,355.24 87.94,356.67 88.93,356.86 89.93,358.23 90.93,359.12 91.93,361.09 92.68,363.01 93.43,364.58 94.18,364.65 94.93,366.64 96.32,369.08 96.51,367.99 96.69,365.88 96.87,363.79 97.06,363.02 97.24,361.19 97.42,358.89 97.61,358.24 97.79,356.8 97.97,355.35 98.15,352.32 98.34,352.09 98.52,349.57 99.37,351.4 100.22,351.69 101.07,354.09 101.92,355.2 102.91,357.12 103.91,357.51 104.91,359.9 105.91,360.43 107.24,361.89 108.57,363.26 109.9,365.54 111.4,365.47 112.9,367.58 114.4,367.53 115.9,368.65 116.9,369.85 117.89,371.82 118.89,372.55 119.89,374.61 120.89,375.89 121.89,376.09 123.89,376.5 125.88,377.44 127.48,375.99 129.08,375.4 130.68,374.49 132.27,374.84 133.87,373.36 135.47,374.29 137.07,373.28 138.66,372.98 140.26,372.37 141.86,372.13 143.46,372.61 145.06,373.37 146.65,372.48 148.25,373.15 149.85,372.26 151.45,372.15 153.04,372.66 154.64,373 156.24,371.32 157.84,371.18 159.44,371.55 161.03,372.07 162.63,371.77 164.23,373.43 165.83,372.13 167.32,374.24 168.82,373.91 170.32,375.69 171.82,375.65 172.62,376.66 173.42,378.3 174.21,380.42 175.01,381.11 175.81,382.57 176.38,383.53 176.95,386.21 177.52,386.53 178.1,389.09 178.67,390.22 179.24,392.1 179.81,392.2 179.96,393.83 180.11,395.51 180.26,396.84 180.41,398.4 180.56,399.74 180.7,401.36 180.85,403.62 181,405.17 181.15,406.77 181.3,408.24 181.45,409 181.6,411.15 181.75,412.86 181.9,413.21 182.05,415.79 182.2,417.24 182.35,418.24 182.5,420.72 182.82,422.27 183.14,422.89 183.47,424.29 183.79,425.92 184.11,427.09 184.43,429.26 184.76,431.61 185.08,432.89 185.4,434.98 185.44,435.21 185.47,436.75 185.51,439.42 185.55,439.58 185.58,441.12 185.62,442.46 185.66,444.12 185.69,446.89 185.73,447.91 185.77,449.87 185.81,451.08 185.84,452.82 185.88,454.06 185.92,455.59 185.95,456.05 185.99,458.84 186.03,459.53 186.06,461.46 186.1,462.36 186.12,463.93 186.14,466.19 186.16,467.61 186.18,468.13 186.2,470.71 186.21,471.41 186.23,473.96 186.25,474.82 186.27,477.16 186.29,478.95 186.31,480.49 186.33,481.92 186.35,483.33 186.37,484.19 186.39,486.61 186.4,486.89 186.42,489.38 186.44,491.12 186.46,491.86 186.48,493.4 186.5,495.4" fill="none" stroke="#EDB120" stroke-width="1.9" stroke-dasharray="5.5 4.5" stroke-linejoin="round"/>
<polyline points="215,393.19 215.12,390.94 215.24,389.12 215.35,387.85 215.47,386.82 215.59,384.63 215.71,383.44 215.83,381.28 215.95,380.6 216.06,377.77 217.29,377.49 218.51,375.26 219.73,373.7 220.95,373.37 222.55,373.22 224.15,372.38 225.74,373.44 227.34,372.48 228.94,372.51 230.54,372.69 232.13,373.28 233.73,373.41 235.33,373.36 236.93,373.38 238.53,371.71 240.12,371.76 241.72,371.5 243.32,370.49 244.92,370.36 246.51,370.94 248.11,371.86 249.71,373.01 251.31,373.52 252.9,373.7 254.4,375.12 255.9,375.43 257.4,376.07 258.9,375.35 260.39,377.17 261.89,376.27 263.39,377.9 264.89,377.53 266.09,377.29 267.28,376.05 268.48,375.11 269.68,373.62 270.88,373.05 272.08,371.01 273.28,370.69 274.47,368.9 275.67,367.67 276.87,366.44 278.2,366.6 279.53,365.12 280.87,364.21 282.2,362.25 283.53,362.65 284.86,361.21 286.19,360.26 287.52,358.07 288.85,357.19 289.43,357.53 290,359.47 290.57,360.71 291.14,362.85 291.71,364.38 292.28,365.12 292.85,366.15 294.05,365.01 295.25,364.02 296.44,364.03 297.64,362.6 298.84,361.67 300.04,359.2 301.24,358.74 302.44,356.53 303.63,356.89 304.83,354.58 305.83,353.85 306.83,352.6 307.83,351.62 308.83,349.96 309.83,348.74 310.82,347.2 311.82,346.05 312.82,343.83 313.82,344.07 314.82,341.87 315.82,341.7 316.82,339.55 318.31,340.13 319.81,339.23 321.31,338.42 322.81,338.42 324.6,339.18 326.4,338.92" fill="none" stroke="#EDB120" stroke-width="1.9" stroke-dasharray="5.5 4.5" stroke-linejoin="round"/>
<polyline points="47.59,320.95 48.87,319.38 50.15,319.74 51.43,317.9 52.71,317.34 53.98,316.45 55.58,318.16 57.18,317.71 58.78,319.83 60.37,320.98 61.97,320.05 63.64,321.71 65.3,321.63 66.97,320.51 68.63,322.29 70.29,322.64 71.96,322.69 72.96,323 73.96,325.5 74.95,325.4 75.95,327.21 77.15,327.87 78.35,330.68 79.55,330.69 80.75,331.64 81.94,331.8 83.14,335.23 84.34,334.55 85.54,337.52 86.74,337.02 87.94,338.36 88.93,339.13 89.93,341.83 90.93,343.81 91.93,345.03 92.93,344.75 93.93,347.72 95.92,348.24 96.2,347.96 96.47,345.56 96.74,345.42 97.01,343.45 97.29,340.51 97.56,338.71 97.83,337.79 98.1,335.93 98.38,334.34 98.65,334.37 98.92,332.53 100.42,334.43 101.92,336.08 102.91,337.17 103.91,336.7 104.91,338.4 105.91,341.25 106.91,341.3 107.91,343.59 109.11,343.55 110.3,345.8 111.5,346.09 112.7,346.69 113.9,348.48 114.9,350.76 115.9,351.47 116.9,353.78 117.89,355.58 118.64,355.96 119.39,357.1 120.14,359.97 120.89,361.91 121.09,362.82 121.29,364.91 121.49,365.07 121.69,366.91 121.89,368.5 122.01,369.53 122.14,372.55 122.26,373.77 122.39,375.72 122.51,377.51 122.64,378.85 122.76,380.3 122.89,381.56 122.99,381.58 123.09,384.93 123.19,386.21 123.29,387.8 123.39,389.6 123.49,389.6 123.59,391.79 123.69,392.97 123.79,394.61 123.89,397.97 124.14,397.68 124.38,400.3 124.63,400.3 124.88,403.24 124.99,405.72 125.11,407.1 125.22,406.46 125.33,408.05 125.44,409.76 125.55,411.96 125.66,414.85 125.77,414.49 125.88,415.85 126.15,417.7 126.42,420.96 126.68,422.26 126.95,423.34 127.21,425.72 127.48,426.5 127.58,429.02 127.68,430.49 127.78,431.13 127.88,432.41 127.98,433.24 128.08,435.62 128.18,436.24 128.28,438.93" fill="none" stroke="#7E2F8E" stroke-width="1.8" stroke-dasharray="1.6 1.6" stroke-linejoin="round"/>
<polyline points="272.88,360.89 273.1,358.17 273.32,358.73 273.54,355.94 273.76,355.31 273.99,352.2 274.21,350.92 274.43,349.51 274.65,349.06 274.87,346.57 276.21,346.1 277.54,345.28 278.87,343.49 280.07,342.89 281.27,341.89 282.46,339.28 283.66,338.11 284.86,337 286.11,335.91 287.36,335.76 288.6,335.08 289.85,332.6 290.05,333.61 290.25,335.64 290.45,338.24 290.65,338.23 290.85,341.17 291.05,343.32 291.25,344.98 291.45,346.09 291.65,348.32 291.85,348.12 292.85,346.74 293.85,345.99 294.85,345.63 295.84,344.91 296.84,344.02 297.98,341.49 299.13,340.98 300.27,339.03 301.41,339.16 302.55,336.54 303.69,336.61 304.83,334.66 305.83,334.23 306.83,331.76 307.83,330.68 308.83,329.29 309.83,328.56 310.82,327.28 312.02,326.43 313.22,325.49 314.42,322.77 315.62,321.44 316.82,322 318.31,319.24 319.81,319.86 321.31,317.01 322.81,317.42 324.6,318.04 326.4,317.95" fill="none" stroke="#7E2F8E" stroke-width="1.8" stroke-dasharray="1.6 1.6" stroke-linejoin="round"/>
<polyline points="47.59,342.92 49.19,342.67 50.79,343.37 52.39,342.46 53.98,342.6 55.58,342.07 57.18,343.34 58.78,342.01 60.37,343.34 61.97,341.89 63.47,342.85 64.97,342.34 66.47,343.18 67.96,342.23 68.96,345.08 69.96,346.42 70.96,347.6 71.96,348.6 72.53,351.12 73.1,351.34 73.67,353.66 74.24,355.18 74.81,355.45 75.38,357.05 75.95,359.31 77.45,359.21 78.95,360.47 80.45,360.21 81.94,361.59 82.74,362.76 83.54,363.73 84.34,365 85.14,366.71 85.94,368.61 86.51,370.59 87.08,371.31 87.65,373.34 88.22,374.18 88.79,376.63 89.36,376.98 89.93,379.31 90.43,381.09 90.93,382.76 91.43,383.53 91.93,385.02 92.43,386.53 92.93,389.08 93.26,390.08 93.59,392.53 93.93,394.22 93.93,393.33 94.08,390.69 94.23,390.06 94.39,387.59 94.54,387.21 94.7,384.59 94.85,384.34 95,382.37 95.16,380.79 95.31,378.58 95.46,378.25 95.62,375.5 95.77,374.69 95.92,372.57 96.12,371.74 96.32,369.9 96.52,368.61 96.72,367 96.92,364.63 98.92,363.52 99.67,364.2 100.42,365.35 101.17,367.61 101.92,368.23 102.49,369.83 103.06,371.94 103.63,373.37 104.2,375.21 104.77,376.75 105.34,376.92 105.91,378.61 106.48,380.95 107.05,382.02 107.62,383.8 108.19,384.81 108.76,385.68 109.33,386.95 109.9,388.19 110.57,390.9 111.24,392.67 111.9,394.51 112.4,391.4 112.9,391 113.4,388.27 113.9,386.33 114.15,389.1 114.4,389.53 114.65,390.97 114.9,393.07 115.9,391.45 116.4,392.23 116.9,394.59 117.39,395.15 117.89,396.34 118.06,399.36 118.23,400.04 118.39,402.35 118.56,402.97 118.73,405.84 118.89,406.61 118.94,408.94 118.98,409.37 119.03,412.28 119.08,413.56 119.12,415.12 119.17,415.46 119.21,418.39 119.26,419.86 119.31,421.48 119.35,421.6 119.4,424.54 119.45,424.65 119.49,426.46 119.54,429.03 119.58,430.4 119.62,432.23 119.67,433.72 119.71,434.12 119.76,436.53 119.8,437.99 119.85,439.83 119.89,440.57 120.39,443.03 120.89,443.63 121.39,444.85 121.89,446.21 122.89,448.63 123.89,450.37 124.88,451.96 125.88,452.26 126.88,454.92 127.88,455.22 128.88,457.16 128.07,455.03 127.26,454.32 126.46,453.44 125.65,451.44 124.84,449.3 124.04,449.12 123.23,446.47 122.42,445.35 121.61,444.43 120.81,443.47 120,440.55 120.56,443.48 121.12,443.84 121.68,445.8 122.24,446.39 122.8,448.85 123.75,449.61 124.7,451.67 125.65,452.46 126.6,454.48 127.55,455.19 128.5,457.2 128.59,459.26 128.68,460.44 128.76,462.07 128.85,463.78 128.94,464.4 129.02,466.92 129.11,467.67 129.2,469.98 129.36,470.85 129.51,473.38 129.67,473.92 129.82,476.57 129.98,477.37 130.13,478.99 130.29,480.57 130.44,482.59 130.6,483.68 130.9,485.41 131.2,486.5 131.5,488.38 131.8,490.32 132.1,491.9 132.4,494.39 132.7,495.4" fill="none" stroke="#77AC30" stroke-width="1.7" stroke-dasharray="1.5 1.5" stroke-linejoin="round"/>
<polyline points="172.6,495.4 173,493.04 173.4,491.78 173.8,489.74 174.2,489.36 174.6,486.5 175,486.18 175.4,483.64 175.93,482.68 176.45,480.33 176.97,479.72 177.5,476.97 178.95,479.42 180.4,478.94 180.75,481.76 181.1,483.08 181.45,485.41 181.8,486.5 182.15,489.2 182.5,489.55 182.85,492.49 183.2,492.93 183.32,491.14 183.43,489.58 183.55,489.19 183.67,487.38 183.78,486.11 183.9,484.24 184.45,486.1 185,487.24 185.55,490.07 186.1,490.4 186.8,490.17 187.5,487.77 188.2,487.62 188.9,484.94 189.6,483.31 191.05,484.18 192.5,485.92 193.9,487.43 195.3,488.62 195.88,488.86 196.46,490.91 197.04,491.92 197.62,493.16 198.2,495.4" fill="none" stroke="#77AC30" stroke-width="1.7" stroke-dasharray="1.5 1.5" stroke-linejoin="round"/>
<polyline points="199.98,495.85 200.48,493.96 200.98,493.08 201.48,491.03 201.98,490.12 202.48,487.9 202.97,487.58 203.47,485.66 203.97,483.82 204.47,481.25 204.97,480.44 205.47,478.25 205.97,477.07 206.47,477.74 206.97,479.28 207.47,481.05 207.97,483.13 208.22,484.09 208.47,486.33 208.72,487.52 208.97,490.02 209.22,490.39 209.47,491.9 209.72,493.69 209.97,495.85" fill="none" stroke="#77AC30" stroke-width="1.7" stroke-dasharray="1.5 1.5" stroke-linejoin="round"/>
<polyline points="250.91,495.85 251.07,493.88 251.24,492.6 251.41,490.59 251.57,490.38 251.74,488 251.91,486.86" fill="none" stroke="#77AC30" stroke-width="1.7" stroke-dasharray="1.5 1.5" stroke-linejoin="round"/>
<polyline points="263.89,397.04 264.09,396 264.29,394.29 264.49,392.33 264.69,391.11 264.89,388.68 266.22,388.22 267.55,385.87 268.88,384.49 270.88,383.63 272.88,383.35 274.87,382.34 276.87,383.2 278.2,382.04 279.53,380.76 280.87,378.28 281.31,376.96 281.75,375.3 282.2,374.68 282.64,372.44 283.08,371.64 283.53,369.03 283.97,368.69 284.42,365.96 284.86,365.09 285.86,362.29 286.86,361.34 286.97,361.73 287.08,364.28 287.19,365.17 287.3,366.39 287.41,368.48 287.52,370.93 287.63,371.28 287.75,374.03 287.86,374.62 287.97,376.21 288.08,378.5 288.19,379.95 288.3,381.28 288.41,383.25 288.52,383.94 288.63,386.36 288.74,387.69 288.85,389.3 289.85,386.25 290.85,385.02 291.3,382.84 291.74,381.96 292.18,379.89 292.63,379.08 293.07,376.4 293.51,376.18 293.96,373.5 294.4,372.97 294.85,370.68 296.04,370.47 297.24,368.04 298.44,366.97 299.64,365.38 300.84,365.14 301.64,362.63 302.44,360.98 303.23,360.28 304.03,358.08 304.83,356.14 305.83,356.13 306.83,353.6 307.83,353.53 308.83,351.3 309.83,350.76 310.82,349.48 311.82,346.97 312.82,345.4 313.82,345.12 314.82,342.24 316.82,343.18 318.81,342.71 320.81,343.51 322.67,342.17 324.54,343 326.4,341.92" fill="none" stroke="#77AC30" stroke-width="1.7" stroke-dasharray="1.5 1.5" stroke-linejoin="round"/>
<polyline points="47.59,333.93 49.19,333.09 50.79,334 52.39,332.39 53.98,333.11 55.58,332.35 57.18,333.92 58.78,332.97 60.37,334.34 61.97,333.19 63.57,334.2 65.17,333.87 66.77,333.93 68.36,332.36 69.96,333.61 71.29,334.04 72.62,335.08 73.96,337.47 75.29,338.98 76.62,340.1 77.95,340.74 79.15,341.41 80.35,342.66 81.54,345.04 82.74,345.91 83.94,346.49 85.14,348.36 86.34,349.09 87.54,350.91 88.73,352.31 89.93,353.08 90.93,353.61 91.93,354.97 92.93,356.47 93.93,359 94.93,359.08 95.92,361.2 97.92,360.37 99.92,361.62 100.32,358.86 100.72,358.18 101.12,356.32 101.52,355.05 101.92,352.59 103.25,354.45 104.58,355.82 105.91,357.55 107.11,358.55 108.31,359.12 109.51,360.11 110.7,362.42 111.9,362.39 113.4,364.65 114.9,364.71 116.4,366.17 117.89,367.23 118.64,368.92 119.39,369.2 120.14,371.99 120.89,373.59 121.09,374.66 121.29,376.31 121.49,377.97 121.69,379.98 121.89,381.35 121.99,382.18 122.09,383.57 122.19,385.37 122.29,388.13 122.39,388.37 122.49,391.04 122.59,392.01 122.69,394.18 122.79,394.65 122.89,396.76 123.89,398.61 124.68,400.98 125.48,401.53 126.28,404.44 127.08,405.93 127.88,407.3 128.28,407.83 128.68,409.57 129.08,411.51 129.48,413.79 129.88,415.45 130.28,417.17 130.68,417.96 131.08,419.49 131.47,421.76 131.87,423.26 132.32,424.09 132.76,426.6 133.21,427.12 133.65,429.8 134.09,429.97 134.54,432.47 134.98,433.65 135.42,435.68 135.87,437.52 136.31,437.91 136.76,439.79 137.2,442.02 137.64,442.88 138.09,444.91 138.53,446.04 138.98,448.17 139.42,448.72 139.86,451.52 140.15,452.15 140.44,454.3 140.73,455.32 141.02,457.7 141.32,458.38 141.61,460.84 141.9,461.03 142.19,463.66 142.48,464.16 142.77,466.81 143.06,466.99 143.35,468.62 143.64,470.36 143.93,471.99 144.22,474.04 144.51,475.54 144.8,476.47 145.1,478.71 145.4,479.49 145.7,482.35 146,482.37 146.3,485.47 146.41,482.85 146.52,481.99 146.63,480.05 146.74,477.33 146.86,475.93 146.97,475.14 147.08,472.42 147.19,471.62 147.3,469.59 147.38,468.55 147.46,467.2 147.54,464.74 147.62,462.8 147.7,462.7 147.78,460.05 147.86,459.4 147.94,457 148.02,455.49 148.1,454.3 148.3,455.59 148.5,456.79 148.7,458.78 148.9,461.26 149.1,463.35 150.15,463.44 151.2,466.07 151.78,464.27 152.36,461.38 152.94,459.92 153.52,458.89 154.1,456.76 154.3,459.2 154.5,460.06 154.7,461.35 154.9,463.05 155.1,464.51 155.3,466.19 155.5,468.91 155.7,469.64 155.9,471.96 156.1,472.9 156.3,475.37 156.5,475.65 156.7,478.41 156.9,480.16 157.04,481.73 157.18,482.11 157.32,485.03 157.46,485.71 157.6,487.79 157.74,488.82 157.88,490.28 158.02,491.71 158.16,494.28 158.3,495.4" fill="none" stroke="#4DBEEE" stroke-width="1.6" stroke-dasharray="1.3 1.3" stroke-linejoin="round"/>
<polyline points="160.5,459.8 160.46,460.97 160.42,463.31 160.38,465.15 160.34,465.59 160.31,468.46 160.27,469.84 160.23,470.49 160.19,472.87 160.15,473.45 160.11,476.14 160.07,476.77 160.03,479.36 159.99,479.78 159.96,482.05 159.92,482.68 159.88,485.3 159.84,486.22 159.8,488.2" fill="none" stroke="#4DBEEE" stroke-width="1.6" stroke-dasharray="1.3 1.3" stroke-linejoin="round"/>
<polyline points="263.89,397.04 264.19,394.81 264.49,394.49 264.79,391.7 265.09,391.23 265.39,389.61 265.69,388.01 265.99,385.23 266.29,383.86 266.59,382.79 266.89,381.1 267.38,378.68 267.88,377.37 268.38,376.18 268.88,374.16 269.38,372.86 269.88,372.44 270.38,369.69 270.88,369.6 271.74,367.04 272.59,366.82 273.45,365.17 274.3,362.91 275.16,360.96 276.02,359.62 276.87,358.23 278.37,358.58 279.87,356.46 281.37,356.37 282.86,354.33 284.06,354.25 285.26,351.98 286.46,352.07 287.66,350.86 288.85,348.49 289.23,350.12 289.6,352.67 289.98,352.61 290.35,355.4 290.73,356.07 291.1,357.58 291.48,359.03 291.85,361.24 293.1,359.1 294.35,358.15 295.6,358.33 296.84,357.1 297.98,355.1 299.13,355.02 300.27,353.17 301.41,351.54 302.55,350.68 303.69,350.75 304.83,348.67 305.83,348.25 306.83,345.45 307.83,345.19 308.83,343.77 309.83,341.97 310.82,340.25 311.68,340.16 312.54,337.56 313.39,337.27 314.25,334.47 315.1,334.39 315.96,332.58 316.82,331.33 318.31,330.66 319.81,330.77 321.31,331 322.81,331.14 324.6,331.02 326.4,330.94" fill="none" stroke="#4DBEEE" stroke-width="1.6" stroke-dasharray="1.3 1.3" stroke-linejoin="round"/>
<path d="M47.6 289.4H326.4" stroke="#a9a9a9" stroke-width="1.1" fill="none"/>
<path d="M47.6 496.2H326.4" stroke="#939393" stroke-width="1.1" fill="none"/>
<path d="M47.6 289.4V496.2" stroke="#6eaee0" stroke-width="1" fill="none"/>
<path d="M326.4 289.4V496.2" stroke="#eda07e" stroke-width="1" fill="none"/>
<path d="M108.21 289.4v2.8M108.21 496.2v-2.8M168.82 289.4v2.8M168.82 496.2v-2.8M229.43 289.4v2.8M229.43 496.2v-2.8M290.03 289.4v2.8M290.03 496.2v-2.8" stroke="#555" stroke-width="0.8" fill="none"/>
<path d="M47.6 466.66h2.8M47.6 437.11h2.8M47.6 407.57h2.8M47.6 378.03h2.8M47.6 348.49h2.8M47.6 318.94h2.8" stroke="#5aa0d8" stroke-width="0.8" fill="none"/>
<path d="M326.4 470.35h-2.8M326.4 444.5h-2.8M326.4 418.65h-2.8M326.4 392.8h-2.8M326.4 366.95h-2.8M326.4 341.1h-2.8M326.4 315.25h-2.8" stroke="#e8926a" stroke-width="0.8" fill="none"/>
<text x="42.8" y="500.8" font-size="10.6" fill="#0072BD" text-anchor="end">20</text>
<text x="42.8" y="471.26" font-size="10.6" fill="#0072BD" text-anchor="end">25</text>
<text x="42.8" y="441.71" font-size="10.6" fill="#0072BD" text-anchor="end">30</text>
<text x="42.8" y="412.17" font-size="10.6" fill="#0072BD" text-anchor="end">35</text>
<text x="42.8" y="382.63" font-size="10.6" fill="#0072BD" text-anchor="end">40</text>
<text x="42.8" y="353.09" font-size="10.6" fill="#0072BD" text-anchor="end">45</text>
<text x="42.8" y="323.54" font-size="10.6" fill="#0072BD" text-anchor="end">50</text>
<text x="42.8" y="294" font-size="10.6" fill="#0072BD" text-anchor="end">55</text>
<text x="330.2" y="500.6" font-size="10.6" fill="#D95319">-10</text>
<text x="330.2" y="474.75" font-size="10.6" fill="#D95319">0</text>
<text x="330.2" y="448.9" font-size="10.6" fill="#D95319">10</text>
<text x="330.2" y="423.05" font-size="10.6" fill="#D95319">20</text>
<text x="330.2" y="397.2" font-size="10.6" fill="#D95319">30</text>
<text x="330.2" y="371.35" font-size="10.6" fill="#D95319">40</text>
<text x="330.2" y="345.5" font-size="10.6" fill="#D95319">50</text>
<text x="330.2" y="319.65" font-size="10.6" fill="#D95319">60</text>
<text x="330.2" y="293.8" font-size="10.6" fill="#D95319">70</text>
<text x="47.6" y="511.7" font-size="10.6" fill="#262626" text-anchor="middle">0</text>
<text x="108.21" y="511.7" font-size="10.6" fill="#262626" text-anchor="middle">5</text>
<text x="168.82" y="511.7" font-size="10.6" fill="#262626" text-anchor="middle">10</text>
<text x="229.43" y="511.7" font-size="10.6" fill="#262626" text-anchor="middle">15</text>
<text x="290.03" y="511.7" font-size="10.6" fill="#262626" text-anchor="middle">20</text>
<text x="187" y="526.2" font-size="12.2" fill="#262626" text-anchor="middle">Time [min]</text>
<text transform="translate(21.1,392.8) rotate(-90)" font-size="12" fill="#0072BD" text-anchor="middle">C/N<tspan font-size="10.3" dy="4.6">0</tspan><tspan dy="-4.6"> [dBHz]</tspan></text>
<text transform="translate(360.9,393.4) rotate(-90)" font-size="12" fill="#D95319" text-anchor="middle">Estimated JSR [dB]</text>
<rect x="248.6" y="400.6" width="62.8" height="88" fill="#fff" stroke="#cfcfcf" stroke-width="1"/>
<path d="M249.9 409H270.6" stroke="#0072BD" stroke-width="2.2" fill="none"/>
<text x="272.8" y="414" font-size="11" fill="#262626">12-bit</text>
<path d="M249.9 423.5H270.6" stroke="#D95319" stroke-width="1.9" stroke-dasharray="5 1.2 2.7 1.2" fill="none"/>
<text x="272.8" y="428.5" font-size="11" fill="#262626">8-bit</text>
<path d="M249.9 438H270.6" stroke="#EDB120" stroke-width="1.9" stroke-dasharray="5.5 4.5" fill="none"/>
<text x="272.8" y="443" font-size="11" fill="#262626">4-bit</text>
<path d="M249.9 452.5H270.6" stroke="#7E2F8E" stroke-width="1.8" stroke-dasharray="1.6 1.6" fill="none"/>
<text x="272.8" y="457.5" font-size="11" fill="#262626">no IM</text>
<path d="M249.9 467H270.6" stroke="#77AC30" stroke-width="1.7" stroke-dasharray="1.5 1.5" fill="none"/>
<text x="272.8" y="472" font-size="11" fill="#262626">LowRx</text>
<path d="M249.9 481.5H270.6" stroke="#4DBEEE" stroke-width="1.6" stroke-dasharray="1.3 1.3" fill="none"/>
<text x="272.8" y="486.5" font-size="11" fill="#262626">HighRx</text>
<text class="cap" x="136.5" y="555.6" font-size="14.8" fill="#1a1a1a" textLength="101.7" lengthAdjust="spacingAndGlyphs">(<tspan font-weight="bold">c</tspan>) Long pulsed</text>
<path d="M466.15 289.4V496.2M526.8 289.4V496.2M587.46 289.4V496.2M648.11 289.4V496.2M405.5 466.66H684.5M405.5 437.11H684.5M405.5 407.57H684.5M405.5 378.03H684.5M405.5 348.49H684.5M405.5 318.94H684.5" stroke="#eef0f3" stroke-width="0.9" fill="none"/>
<polyline points="405.78,482.25 406.64,480.01 408.2,479.17 409.06,476.93 410.62,476.09 411.48,473.86 413.04,473.02 413.9,470.78 415.46,469.94 416.32,467.7 417.88,466.86 418.74,464.62 420.3,463.78 421.16,461.55 422.72,460.71 423.58,458.47 425.14,457.63 426,455.39 427.56,454.55 428.42,452.31 429.98,451.47 430.84,449.24 432.4,448.4 433.26,446.16 434.82,445.32 435.68,443.08 437.24,442.24 438.1,440 439.66,439.16 440.53,436.92 442.09,436.09 442.95,433.85 444.51,433.01 445.37,430.77 446.93,429.93 447.79,427.69 449.35,426.85 450.21,424.61 451.77,423.78 452.63,421.54 454.19,420.7 455.05,418.46 456.61,417.62 457.47,415.38 459.03,414.54 459.89,412.3 461.45,411.47 462.31,409.23 463.87,408.39 464.73,406.15 466.29,405.31 467.15,403.07 468.71,402.23 469.57,399.99 471.13,399.16 471.99,396.92 473.55,396.08 474.41,393.84 475.98,393 476.84,390.76 478.4,389.92 479.26,387.68 480.82,386.84 481.68,384.61 483.24,383.77 484.1,381.53 485.66,380.69 486.52,378.45 488.08,377.61 488.94,375.37 490.5,374.53 491.36,372.3 492.92,371.46 493.78,369.22 495.34,368.38 496.2,366.14 497.76,365.3 498.62,363.06 500.18,362.22 501.04,359.99 502.6,359.15 503.46,356.91 505.02,356.07 505.88,353.83 507.44,352.99 508.3,350.75 509.86,349.91 510.72,347.67 512.29,346.84 513.15,344.6 514.71,343.76 515.57,341.52 517.13,340.68 517.99,338.44 519.55,337.6 520.41,335.36 521.97,334.53 522.83,332.29 524.39,331.45 525.25,329.21 526.81,328.37 527.67,326.13 529.23,325.29 530.09,323.05 531.65,322.22 532.51,319.98 534.07,319.14 534.93,316.9 536.49,316.06 537.35,313.82 538.91,312.98 539.77,310.74 541.33,309.91 542.19,307.67 543.75,306.83 544.61,304.59 546.17,303.75 547.03,304.58 548.58,306.8 549.44,307.63 550.99,309.85 551.84,310.68 553.4,312.91 554.25,313.73 555.8,315.96 556.66,316.78 558.21,319.01 559.06,319.84 560.62,322.06 561.47,322.89 563.02,325.12 563.88,325.94 565.43,328.17 566.28,328.99 567.84,331.22 568.69,332.05 570.24,334.27 571.1,335.1 572.65,337.32 573.5,338.15 575.06,340.38 575.91,341.2 577.47,343.43 578.32,344.25 579.87,346.48 580.73,347.31 582.28,349.53 583.13,350.36 584.69,352.58 585.54,353.41 587.09,355.64 587.95,356.46 589.5,358.69 590.35,359.52 591.91,361.74 592.76,362.57 594.31,364.79 595.17,365.62 596.72,367.85 597.57,368.67 599.13,370.9 599.98,371.72 601.53,373.95 602.39,374.78 603.94,377 604.8,377.83 606.35,380.05 607.2,380.88 608.76,383.11 609.61,383.93 611.16,386.16 612.02,386.98 613.57,389.21 614.42,390.04 615.98,392.26 616.83,393.09 618.38,395.32 619.24,396.14 620.79,398.37 621.64,399.19 623.2,401.42 624.05,402.25 625.6,404.47 626.46,405.3 628.01,407.52 628.87,408.35 630.42,410.58 631.27,411.4 632.83,413.63 633.68,414.45 635.23,416.68 636.09,417.51 637.64,419.73 638.49,420.56 640.05,422.78 640.9,423.61 642.45,425.84 643.31,426.66 644.86,428.89 645.71,429.72 647.27,431.94 648.12,432.77 649.67,434.99 650.53,435.82 652.08,438.05 652.93,438.87 654.49,441.1 655.34,441.92 656.89,444.15 657.75,444.98 659.3,447.2 660.16,448.03 661.71,450.25 662.56,451.08 664.12,453.31 664.97,454.13 666.52,456.36 667.38,457.18 668.93,459.41 669.78,460.24 671.34,462.46 672.19,463.29 673.74,465.52 674.6,466.34 676.15,468.57 677,469.39 678.56,471.62 679.41,472.45 680.96,474.67 681.82,475.5 683.37,477.72 684.4,478.9" fill="none" stroke="#C9581F" stroke-width="1.35" stroke-linejoin="round"/>
<polyline points="405.59,317.95 407.06,317.33 408.52,319.89 409.99,318.7 411.18,320.12 412.38,316.68 413.58,316.12 414.78,315.24 415.98,314.43 417.48,314.63 418.97,317.02 420.47,316 421.97,316.09 423.47,317.86 424.97,316.9 426.46,315.7 427.96,316.91 429.29,317.88 430.62,317.28 431.96,320.95 432.95,322.06 433.95,321.54 434.95,325.56 435.95,325.3 437.45,327.72 438.95,326.57 440.44,329.97 441.94,328.53 443.14,330.15 444.34,331.09 445.54,334.29 446.73,333.14 447.93,336.42 449.13,335.37 450.33,338.32 451.53,337.32 452.73,339.13 453.92,342.19 455.42,341.84 456.92,343.15 457.17,340.04 457.42,339.84 457.67,338.22 457.92,334.96 458.17,335.4 458.42,332.17 458.67,332.8 458.92,328.82 460.58,331.47 462.25,330.9 463.91,334.38 465.16,333.14 466.41,334.69 467.66,335.72 468.9,336.81 470.57,337.47 472.23,340.03 473.9,338.84 475.39,342.02 476.89,341.1 478.39,342.6 479.89,341.94 480.89,342.77 481.89,339.36 482.88,340.6 483.88,337.54 485.88,339.07 487.88,337.17 489.87,336.49 491.37,337.11 492.87,338.85 494.37,336.76 495.87,337.49 497.36,336.7 498.86,338.34 500.36,336.91 501.86,338.81 503.36,338.48 504.85,339.06 506.35,337.23 507.85,340.13 509.35,339.46 510.84,339.17 512.34,338.08 513.84,336.29 515.34,337.03 516.84,339.15 518.33,337.53 519.83,340.36 521.33,337.85 522.83,338.78 524.33,337.05 525.82,339.33 527.32,338.03 528.82,340.31 530.32,340.87 531.82,339.56 533.15,343.35 534.48,344.92 535.81,343.79 536.31,347.04 536.81,346.56 537.31,350.42 537.81,350.35 538.31,353.23 538.81,352.88 539.3,356.46 539.8,355.68 540.3,359.1 540.8,359.17 541.3,361.18 541.8,362.68 542.3,366.14 542.8,367.39 543.6,369.94 544.41,369.08 545.21,371.03 545.36,372.24 545.52,376.41 545.67,374.98 545.82,378.83 545.97,379.17 546.12,380.09 546.28,381.45 546.34,385.53 546.39,384.71 546.45,388.08 546.51,389.18 546.57,389.12 546.63,392.19 546.69,392.88 546.75,394.11 546.81,397.68 546.87,397.31 546.93,400.44 546.99,401.87 547.04,403.55 547.1,403.53 547.16,404.96 547.22,406.13 547.28,408.34 547.34,410.6 547.4,412.26 547.47,412.21 547.53,415.66 547.59,414.99 547.65,417 547.72,419.7 547.78,421.76 547.84,421.92 547.9,424.25 547.97,423.98 548.03,427.45 548.09,429.62 548.15,430.12 548.22,432.02 548.28,433.4 548.34,432.92 548.4,436.78 548.46,436.92 548.52,440.16 548.58,440.93 548.64,440.97 548.69,442.3 548.75,445.36 548.81,446.16 548.87,448.67 548.93,449.31 548.98,451.95 549.04,451.76 549.09,452.39 549.13,448.55 549.17,449.33 549.21,445.83 549.26,446.1 549.3,443.04 549.34,441.24 549.38,439.94 549.43,440.03 549.47,436.57 549.51,437.17 549.55,433.91 549.6,433.98 549.64,430.91 549.68,430.23 549.72,427.57 549.77,427.48 549.81,424.62 549.85,424.83 549.89,421.18 549.94,420.96 549.98,418.51 550.02,417.99 550.06,415.41 550.11,415.41 550.13,411.8 550.15,412.6 550.17,409.25 550.19,408.73 550.21,406.41 550.23,406.45 550.25,402.82 550.27,403.66 550.29,399.41 550.31,398.5 550.33,396.47 550.35,396.95 550.37,395.04 550.39,393.73 550.41,390.39 550.43,391.25 550.45,390.1 550.47,388.56 550.49,384.79 550.51,384.59 550.53,381.23 550.58,381.62 550.63,378.06 550.67,378.55 550.72,375.54 550.77,375.27 550.82,371.43 550.86,372 550.91,368.33 550.96,367.3 552.66,368.54 553.72,371.59 554.79,370.83 555.85,371.77 556.91,368.35 557.45,369.15 557.98,371.54 558.13,373.78 558.28,374.17 558.43,377.68 558.59,377.06 558.74,380.75 558.89,382.2 559.04,384.02 559.14,383.27 559.24,385.31 559.33,388.2 559.43,387.96 559.53,389.55 559.62,393.24 559.72,394.36 559.82,395.69 559.91,395.29 560.01,399.29 560.11,400.81 560.26,401.62 560.41,401.83 560.56,404.89 560.71,404.18 560.87,408.65 561.02,409.83 561.17,409.71 561.32,411.05 561.47,413.73 561.63,413.43 561.78,417.12 561.93,416.92 562.08,418.78 562.23,419.83 562.5,423.57 562.77,425.17 563.03,424.98 563.3,426.56 563.56,429.5 563.83,430.76 564.1,432.34 564.36,432.88 564.57,436.51 564.79,435.44 565,439.22 565.21,438.35 565.43,441.99 565.64,441.24 565.85,443.61 566.06,444.57 566.28,447.45 566.49,448.51" fill="none" stroke="#0072BD" stroke-width="2.2" stroke-linejoin="round"/>
<polyline points="568.62,380.43 568.67,377.8 568.73,375.9 568.78,374.22 568.84,374.74 568.9,371.33 568.95,372.13 569.01,369.97 569.06,368.45 569.12,365.92 569.18,365.26 569.23,363.66 569.29,362.76 569.34,359.19 569.4,359.12 569.46,356.52 569.51,356.02 569.57,354.62 569.62,353.04 569.68,349.88 570.82,347.42 571.96,346.4 573.29,346.72 574.62,343.92 575.95,343.82 577.62,343.77 579.28,341.41 580.95,342.79 582.94,342.67 584.94,342 586.94,340.96 588.94,339.6 590.43,338.68 591.93,340.84 593.43,341.97 594.93,341.41 596.26,341.57 597.59,337.9 598.92,336.73 600.92,336.99 602.92,338.27 604.25,336.92 605.58,339.61 606.91,338.54 608.41,340.75 609.91,338.95 611.4,341.34 612.9,340.33 614.4,342.68 615.9,341.47 617.4,341.36 618.89,343.49 619.89,345.87 620.89,345.42 621.89,345.17 622.89,342.79 623.89,343.09 624.89,339.95 626.88,340.87 628.88,339.56 630.88,340.63 632.87,340.52 634.37,340.89 635.87,338.42 637.37,340.31 638.87,339.9 639.86,338.37 640.86,335.53 641.86,334.59 642.86,332.76 643.86,332.61 644.86,330.05 645.86,329.95 646.85,328.07 647.85,326.37 648.19,326.61 648.52,330.33 648.85,329.37 649.18,332.8 649.52,332.51 649.85,336.65 650.18,337.89 650.52,338.85 650.85,340.39 652.18,339.84 653.51,336.59 654.84,338.1 656.04,334.83 657.24,334.14 658.44,333.95 659.64,333.03 660.84,329.98 662.33,331.28 663.83,327.53 665.33,327.39 666.83,325.96 668.32,327.4 669.82,323.98 671.32,324.55 672.82,321.84 674.32,322.42 675.81,320.2 677.31,321.36 678.81,318.62 680.21,318.59 681.61,315.94 683,317.2 684.4,314.96" fill="none" stroke="#0072BD" stroke-width="2.2" stroke-linejoin="round"/>
<polyline points="405.59,320.95 407.19,320.75 408.79,322.62 410.39,319.91 411.98,322.78 413.58,321.02 415.18,322.81 416.78,320.11 418.37,321.77 419.97,320.53 421.57,318.95 423.17,319.34 424.77,322.15 426.36,322.28 427.96,320.49 429.46,321.99 430.96,322.52 432.45,325.77 433.95,323.91 434.35,325.29 434.75,326.49 435.15,328.6 435.55,331.71 435.95,331.23 437.45,334.2 438.95,333.49 440.44,335.77 441.94,335.59 443.44,337.37 444.94,335.68 446.43,339.58 447.93,338.25 449.43,341.06 450.93,339.34 452.43,342.46 453.92,344.06 455.26,342.46 456.59,339.25 457.92,340.69 459.42,338.24 460.91,340.1 462.41,340.91 463.91,339.23 465.41,339.54 466.91,343.31 468.4,341.75 469.9,345.63 471.4,343.61 472.9,342.66 474.4,343.63 475.89,346.34 477.89,344.47 479.89,346.26 480.89,344.69 481.89,346.96 482.88,347.33 483.88,351.21 485.38,351.46 486.88,351.4 488.38,350.56 489.87,352.68 491.37,354.19 492.87,353.31 494.37,352.93 495.87,354.73 497.36,351.36 498.86,353.86 500.36,349.97 501.86,351.71 503.36,350.55 504.85,350.79 506.35,350.09 507.85,352.34 509.35,350.64 510.84,353.32 512.34,351.91 513.84,351.76 515.34,354.97 516.84,355.09 518.33,354.03 519.83,356.16 521.33,354.68 522.83,357.05 524.33,356.68 525.82,357.06 526.82,358.74 527.82,359.96 528.82,360.33 529.04,362 529.26,362.99 529.49,366.99 529.71,368.33 529.93,369.26 530.15,369 530.37,372.99 530.59,372.33 530.82,376.67 530.93,375.97 531.04,378.35 531.15,377.76 531.26,382.31 531.37,383.15 531.48,384.91 531.59,384.69 531.7,388.88 531.82,389.53 532.02,391.83 532.21,390.69 532.41,394.8 532.61,393.69 532.81,398.84 532.81,395.87 533.15,399.27 533.48,399.79 533.81,402.64 534.15,402.83 534.48,404.16 534.81,406.5 534.91,407.29 535.01,409.62 535.11,410.95 535.21,413.9 535.31,415.33 535.41,416.06 535.51,417.12 535.61,420.72 535.71,422.35 535.81,424.21 535.93,425.9 536.06,424.58 536.18,428.8 536.31,428.19 536.43,430.02 536.56,432.79 536.68,434.42 536.81,434.93" fill="none" stroke="#D95319" stroke-width="1.9" stroke-dasharray="5 1.2 2.7 1.2" stroke-linejoin="round"/>
<polyline points="580,415 580,411.73 580,413 580,409.46 580,409.81 580,407.04 580,406.42 580,403.5 580,404.17 580,400.35 580,400.74 580,397.67 580,397.5 580.07,393.7 580.15,392.71 580.22,391.55 580.3,391.73 580.37,388.77 580.45,388.19 580.52,385.71 580.6,385.64 580.67,384.07 580.75,382.62 580.82,378.39 580.9,379.37 580.97,378.35 581.05,374.89 581.12,374.42 581.2,373.67 581.27,369.63 581.35,370.1 581.42,366.35 581.5,365.57 581.57,365.24 581.65,363.49 581.72,360.74 581.8,361.33 581.87,357.13 581.95,358.32 583.61,355.44 585.27,357.14 586.94,356.21 588.44,353.04 589.93,352.83 591.43,354.59 592.93,353.62 594.43,354.05 595.93,350.93 597.42,352.67 598.92,349.41 600.42,352.75 601.92,352.77 603.42,352.98 604.91,351.56 606.41,353.23 607.91,351 609.41,352.7 610.9,352.66 612.4,349.63 613.9,349.69 615.4,350.69 616.9,350.84 618.39,353.35 619.89,354 621.39,354.5 622.89,353.38 623.74,354.03 624.6,349.61 625.46,351.46 626.31,348.06 627.17,346.51 628.02,345.29 628.88,343.34 630.88,343.36 632.87,344.89 634.87,342.18 636.87,345.35 638.37,342.3 639.86,344.03 641.36,341.29 642.86,341.56 644.52,339.4 646.19,340.62 647.85,336.84 648.85,340.18 649.85,341.33 650.85,342.94 652.35,340.12 653.84,342.52 655.34,339.7 656.84,338.19 658.34,340.47 659.84,337.25 661.33,337.1 662.83,337.31 664.03,334.17 665.23,335.49 666.43,332.86 667.63,330.94 668.82,330.39 670.32,329.35 671.82,327.63 673.32,329.38 674.82,325.56 676.01,327.02 677.21,326.34 678.41,324.6 679.61,321.92 680.81,321.27 682.6,319.73 684.4,320.95" fill="none" stroke="#D95319" stroke-width="1.9" stroke-dasharray="5 1.2 2.7 1.2" stroke-linejoin="round"/>
<polyline points="405.59,339.92 407.19,338.66 408.79,338.57 410.39,338.06 411.98,337.54 413.58,338.62 415.18,339.09 416.78,337.92 418.37,339.47 419.97,338.63 421.97,339.22 423.97,339.35 425.96,338.39 427.46,340.1 428.96,339.57 430.46,340.17 431.96,340.71 433.45,341.37 434.95,343.21 436.45,343.13 437.95,345.36 439.44,344.8 440.94,346.19 442.44,346.03 443.94,347.13 444.74,347.73 445.54,350.69 446.34,351.32 447.13,352.83 447.93,354.46 449.43,356.66 450.93,357.67 452.43,358.1 453.92,359.49 455.92,360.44 457.92,360.4 458.25,358.87 458.58,357.79 458.92,356.27 459.25,353.82 459.58,353.11 459.92,350.55 461.25,351.47 462.58,352.72 463.91,354.58 464.91,354.75 465.91,355.88 466.91,356.92 467.9,359.31 468.9,359.4 469.9,361.43 471.9,361.4 473.9,362.89" fill="none" stroke="#EDB120" stroke-width="1.9" stroke-dasharray="5.5 4.5" stroke-linejoin="round"/>
<polyline points="650.85,362.89 652.18,361.38 653.51,360.41 654.84,358.16 655.84,357.63 656.84,356.56 657.84,355.03 658.84,352.61 660.17,350.97 661.5,349.85 662.83,348.34 664.33,347.23 665.83,346.25 667.33,345.75 668.82,345.7 670.02,343.45 671.22,342.1 672.42,340.66 673.62,340.82 674.82,338.76 676.31,339.47 677.81,337.82 679.31,337.86 680.81,337.4 682.6,337.32 684.4,337.93" fill="none" stroke="#EDB120" stroke-width="1.9" stroke-dasharray="5.5 4.5" stroke-linejoin="round"/>
<polyline points="405.59,319.95 407.19,320.09 408.79,319.76 410.39,318.1 411.98,317.61 413.48,316.77 414.98,317.37 416.48,315.33 417.97,316.88 419.57,315.24 421.17,316.03 422.77,316.31 424.37,316.55 425.96,316.96 427.46,317.98 428.96,319.04 430.46,320.62 431.96,319.77 432.95,321.64 433.95,322.51 434.95,325.8 435.95,325.38 437.45,327.79 438.95,326.9 440.44,328.95 441.94,328.01 443.14,330.9 444.34,331.44 445.54,332.71 446.73,332.51 447.93,335.09 448.93,334.77 449.93,337.42 450.93,336.37 451.93,338 452.93,339.2 453.92,342.1 455.42,341.21 456.92,343.94 457.17,341.56 457.42,339.42 457.67,337.25 457.92,337.11 458.17,334.27 458.42,332.53 458.67,331.99 458.92,330.54 460.58,329.74 462.25,332.25 463.91,331.84 465.11,335.19 466.31,334.67 467.51,337.58 468.7,338.87 469.9,339.64 471.23,339.54 472.57,340.41 473.9,342.33 474.27,344.81 474.65,347.01 475.02,348.11 475.39,348.07 475.77,351.21 476.14,352.45 476.52,354.33 476.89,353.96 477.39,357.2 477.89,357.97 478.39,360.36 478.89,362 479.39,363.94 479.89,365.63 480.09,366.79 480.29,367.7 480.49,369.35 480.69,370.73 480.89,373.27 481.09,373.78 481.29,375.39 481.49,376.89 481.69,378.09 481.89,380.13 481.99,382.03 482.09,383.75 482.18,386.1 482.28,386.49 482.38,388.66 482.48,390 482.58,393.07 482.68,392.83 482.78,394.7 482.88,396.04 483.38,399.62 483.88,400.98" fill="none" stroke="#7E2F8E" stroke-width="1.8" stroke-dasharray="1.6 1.6" stroke-linejoin="round"/>
<polyline points="486.88,422.95 487,423.8 487.13,425.31 487.25,427.08 487.38,430.5 487.5,430.6 487.63,433.3 487.75,433.56 487.88,435.93" fill="none" stroke="#7E2F8E" stroke-width="1.8" stroke-dasharray="1.6 1.6" stroke-linejoin="round"/>
<polyline points="632.87,350.91 633.67,348.76 634.47,348.33 635.27,344.95 636.07,345.01 636.87,342.67 637.44,340.59 638.01,340.79 638.58,339.25 639.15,336.64 639.72,336.3 640.29,333.64 640.86,333.96 642.03,331.01 643.19,331.23 644.36,330.18 645.52,329.01 646.69,326.48 647.85,325.12 648.23,326.8 648.6,329.89 648.98,330.12 649.35,333.39 649.73,334.68 650.1,336.31 650.47,336.47 650.85,339.88 652.35,337.01 653.84,337.99 655.34,336.39 656.84,335.57 658.04,334.66 659.24,333.62 660.44,331.88 661.63,332.36 662.83,330.35 664.03,330.64 665.23,328.38 666.43,328.78 667.63,326.36 668.82,326.48 670.02,324.14 671.22,323.61 672.42,321.86 673.62,321.69 674.82,319.89 676.31,320.74 677.81,317.97 679.31,318.39 680.81,316.12 682.6,316.17 684.4,316.96" fill="none" stroke="#7E2F8E" stroke-width="1.8" stroke-dasharray="1.6 1.6" stroke-linejoin="round"/>
<polyline points="405.59,341.92 407.19,342.22 408.79,341.41 410.39,341.7 411.98,342.63 413.58,341.24 415.18,341.29 416.78,341.34 418.37,342.66 419.97,341.58 421.57,341.31 423.17,341.54 424.77,341.42 426.36,342.25 427.96,342.2 428.63,342.73 429.29,345.17 429.96,346.9 430.62,348.28 431.29,349.85 431.96,350.52 432.95,351.66 433.95,354.31 434.95,354.75 435.95,357.07 436.95,358.06 437.95,358.95 438.95,361.22 439.94,361.63 440.94,363.14 441.94,365.6 442.8,365.81 443.65,366.95 444.51,368.38 445.37,370.32 446.22,372.81 447.08,373.84 447.93,374.4 448.73,377.2 449.53,377.72 450.33,378.97 451.13,380.54 451.93,383.5 452.43,385.01 452.93,385.5 453.43,386.87 453.92,388.2 454.05,387.98 454.17,386.1 454.3,383.96 454.42,383.53 454.55,381.61 454.67,379.47 454.8,378.17 454.92,377.48 455.05,374.96 455.17,374.42 455.3,371.76 455.42,371.33 455.55,368.74 455.67,368.57 455.8,366 455.92,364.23 456.32,363.65 456.72,361.35 457.12,359.62 457.52,359.07 457.92,356.54 458.42,358.59 458.92,359.58 459.42,362.03 459.92,362.2 460.49,364.93 461.06,365.57 461.63,367.47 462.2,367.8 462.77,369.67 463.34,371.16 463.91,373.63 464.48,373.99 465.05,376.04 465.62,376.79 466.19,378.92 466.76,379.49 467.33,381.94 467.9,382.34 469.9,384.56 471.9,384.57 472.7,386.9 473.5,387.48 474.3,390.09 475.09,391.96 475.89,392.63 476.56,393.48 477.23,396.33 477.89,396.75 478.06,398.51 478.22,399.96 478.39,402.6 478.56,402.94 478.72,405.86 478.89,406.62 478.94,409.18 478.98,409.74 479.03,411.94 479.07,412.65 479.12,414.06 479.17,415.89 479.21,418.25 479.26,418.48 479.3,421.48 479.35,422.13 479.4,423.31 479.44,425.73 479.49,427.24 479.53,428.81 479.58,430.43 479.62,431.95 479.67,433.49 479.71,434.06 479.76,436.75 479.8,437.41 479.84,439.86 479.89,440.47 480.89,443.1 481.89,443.2 482.88,444.73 483.88,446.62 484.88,448.67 485.88,448.57 486.88,451.06 487.88,451.46 488.88,452.73 489.37,454.96 489.87,455.54 490.37,457.2 490.87,459.62 490.96,459.88 491.04,461.13 491.12,462.7 491.21,465.21 491.29,466.01 491.37,467.37 491.46,469.18 491.54,470.55 491.62,472.2 491.7,474.29 491.79,474.86 491.87,477.16 492,477.89 492.12,480.12 492.25,481.78 492.37,483.39 492.5,485.05 492.62,486.5 492.75,487.88 492.87,489.04 494.37,489.24 495.87,491.5 496.4,491.84 496.93,494.69 497.46,495.85" fill="none" stroke="#77AC30" stroke-width="1.7" stroke-dasharray="1.5 1.5" stroke-linejoin="round"/>
<polyline points="505.85,489.86 506.1,491.09 506.35,493.07 506.6,493.67 506.85,495.85" fill="none" stroke="#77AC30" stroke-width="1.7" stroke-dasharray="1.5 1.5" stroke-linejoin="round"/>
<polyline points="526.4,495.3 526.63,494.2 526.87,491.87 527.1,489.99 527.33,489.75 527.57,487.04 527.8,486.49 528.03,483.64 528.27,482.84 528.5,480.74 529.05,479.97 529.6,477.28 530.15,475.01 530.7,473.55 531.75,472.88 532.8,470.33 533.27,473.15 533.73,473.76 534.2,476.2 534.4,476.3 534.6,478.94 534.8,480.93 535,482.6 535.2,483.07 535.4,485.76 535.6,486.36 535.74,489.02 535.88,490.4 536.02,491.37 536.16,492.89 536.3,495.3" fill="none" stroke="#77AC30" stroke-width="1.7" stroke-dasharray="1.5 1.5" stroke-linejoin="round"/>
<polyline points="541.3,495.3 541.53,493.11 541.77,492.5 542,490.06 542.23,489.14 542.47,486.58 542.7,484.87 543.8,484.37 544.9,483.17 545.6,484.28 546.3,485.82 547,486.56 549.1,488.68 550.3,489.12 551.5,491.7 552.7,491.82 553.4,490.58 554.1,489.9 554.8,488.92 555.32,486.39 555.85,485.63 556.38,484.13 556.9,482.92 558.35,481.57 559.8,480.37 561.2,477.53 562.6,477.15 563.12,474.65 563.65,474.34 564.18,472.09 564.7,471.7 564.8,472.28 564.9,474.49 565,476.19 565.1,477.99 565.2,478.62 565.3,481.5 565.4,482.04 565.5,484.43 565.7,486.27 565.9,487.59 566.1,488.53 566.3,490.88 566.5,492.21 566.7,494.45 566.9,495.3" fill="none" stroke="#77AC30" stroke-width="1.7" stroke-dasharray="1.5 1.5" stroke-linejoin="round"/>
<polyline points="573.3,488.2 573.4,489.37 573.5,491.99 573.6,493.17 573.7,495.3" fill="none" stroke="#77AC30" stroke-width="1.7" stroke-dasharray="1.5 1.5" stroke-linejoin="round"/>
<polyline points="622.89,495.85 623.09,493.9 623.29,493.41 623.49,490.42 623.69,488.89 623.89,487.86" fill="none" stroke="#77AC30" stroke-width="1.7" stroke-dasharray="1.5 1.5" stroke-linejoin="round"/>
<polyline points="622.89,397.04 623.22,394.78 623.55,394.35 623.89,391.19 624.22,390.8 624.55,388.19 624.89,387.08 625.68,384.79 626.48,384.33 627.28,381.45 628.08,380.83 628.88,378.18 629.21,377.87 629.55,376.1 629.88,374.42 630.21,371.87 630.54,371.04 630.88,368.19 632.21,368.26 633.54,366.99 634.87,365.29 635.87,363.03 636.87,362.68 637.87,359.74 638.87,359.27 639.44,356.94 640.01,356.35 640.58,353.99 641.15,353.98 641.72,351.27 642.29,350.75 642.86,349.36 643.61,347.74 644.36,345.61 645.11,345.05 645.86,343.49 645.94,344.74 646.02,345.57 646.11,347.06 646.19,348.11 646.27,350.7 646.36,351.24 646.44,352.8 646.52,354.59 646.6,356.57 646.69,357.16 646.77,360.12 646.85,360.45 646.94,362.94 647.02,364.37 647.1,365.56 647.19,366.5 647.27,369.12 647.35,370.62 647.44,371.86 647.52,373.51 647.6,375.04 647.69,375.12 647.77,377.65 647.85,379.55 648.35,376.45 648.85,375.24 649.35,374.66 649.85,372.01 650.35,370.13 650.85,369.24 651.65,367.66 652.45,365.11 653.25,364.83 654.04,362.99 654.84,361.54 655.84,359.84 656.84,358.57 657.84,356.14 658.84,356.34 659.84,353.85 660.84,352.19 662.03,351.29 663.23,350.24 664.43,348.64 665.63,348.41 666.83,346.75 668.32,346.38 669.82,345.88 671.32,345.13 672.82,343.46 674.32,343.71 675.81,342.3 677.31,343.15 678.81,341.23 680.67,341.65 682.54,341.52 684.4,341.92" fill="none" stroke="#77AC30" stroke-width="1.7" stroke-dasharray="1.5 1.5" stroke-linejoin="round"/>
<polyline points="405.59,329.94 407.19,329.69 408.79,329.41 410.39,329.71 411.98,330.5 413.58,329.32 415.18,329.73 416.78,329.06 418.37,328.38 419.97,328.15 421.47,330.22 422.97,330.66 424.47,331.86 425.96,331.57 427.46,333.18 428.96,333.2 430.46,333.97 431.96,334.49 433.15,334.61 434.35,335.53 435.55,337.72 436.75,337.27 437.95,339.71 439.15,339.28 440.34,341.28 441.54,342.14 442.74,343.14 443.94,343.26 444.94,345.86 445.94,345.51 446.93,347.96 447.93,347.87 448.93,350.31 449.93,350.72 451.13,352.78 452.33,352.88 453.53,354.93 454.72,356.17 455.92,357.31 456.92,354.95 457.92,353.68 458.92,353.12 459.92,351.33 461.25,352.49 462.58,354.07 463.91,355.36 465.41,356.29 466.91,356.54 468.4,357.51 469.9,358.41 471.4,359.36 472.9,361.68 474.4,361.15 475.89,362.72 477.89,363.58 479.89,364.71 480.69,366.86 481.49,367.59 482.28,369.94 483.08,370.51 483.88,373.14 484.88,374.64 485.88,376.39 486.88,378.13 487.88,379.32 489.87,378.16 491.87,378.41 493.87,379.32 495.87,380.45 497.36,377.71 498.86,377.22 499.24,378.79 499.61,380.32 499.99,380.89 500.36,382.42 500.73,384.8 501.11,386.07 501.48,386.78 501.86,389.61 502.86,390.33 503.85,392.96 504.85,393.54 505.13,393.06 505.4,391.31 505.67,389.87 505.94,388.33 506.21,386.74 506.49,384.09 506.76,382.42 507.03,381.11 507.3,379.44 507.58,377.99 507.85,377.61 508.35,377.77 508.85,380.19 509.35,381.15 509.85,383.29 510.35,383.66 510.84,386.4 511.34,386.58 511.84,388.46 513.17,389.81 514.51,390.91 515.84,393.35 517.17,394.46 518.5,394.59 519.83,396.12 520.41,396.98 521,399.38 521.58,400.4 522.16,401.57 522.75,402.29 523.33,404.67 523.91,405.14 524.49,407.5 525.08,407.98 525.66,410.02 526.24,411.62 526.82,412.25 527.41,413.31 527.99,415.93 528.57,416.91 529.15,417.83 529.74,419.66 530.32,421.11 530.53,421.57 530.74,424.27 530.96,426.01 531.17,427.35 531.38,427.83 531.6,430.26 531.81,430.57 532.02,433.08 532.23,434.71 532.45,436.13 531.4,433.83 531.56,435.25 531.71,437.06 531.87,439.46 532.02,439.78 532.18,442.28 532.33,443.18 532.49,445.52 532.64,446.6 532.8,448.71 533.15,449.72 533.5,451.4 533.85,453.53 534.2,454.98 534.73,456.52 535.25,458.5 535.77,460.64 536.3,462.86 536.85,463.66 537.4,464.76 537.95,466.11 538.5,468.7 539.55,466.18 540.6,466.07 541.3,467.66 542,469.76 542.7,470.7 543.67,472.9 544.63,474.16 545.6,476.03 546.3,477.04 547,478.71 547.7,479.02 548.4,481.3 548.92,482.09 549.45,483.9 549.98,486.94 550.5,488.81 551.23,489.47 551.97,491.95 552.7,492.64 553.4,491.69 554.1,488.82 554.15,488.79 554.21,486.18 554.26,485.59 554.32,482.93 554.37,482.59 554.42,479.77 554.48,479.36 554.53,477.86 554.58,476.03 554.64,473.76 554.69,473.51 554.75,470.8 554.8,469.41 554.83,467.98 554.85,467.3 554.88,464.43 554.91,464.17 554.93,461.46 554.96,459.89 554.99,458.32 555.01,458.38 555.04,455.83 555.07,455.32 555.09,452.34 555.12,450.93 555.15,449.72 555.17,449 555.2,447" fill="none" stroke="#4DBEEE" stroke-width="1.6" stroke-dasharray="1.3 1.3" stroke-linejoin="round"/>
<polyline points="581.4,437.8 581.38,435.91 581.36,434.07 581.34,432.89 581.32,431.98 581.3,429.47 581.28,429.17 581.26,426.54 581.24,426.09 581.22,423.74 581.2,422.07 581.18,420.67 581.16,420.13 581.14,417.24 581.12,417.22 581.1,415.76 581.28,413.91 581.46,411.16 581.64,410.38 581.82,408.26 582,407.7 583,404.6 584,402.28 584.73,401.06 585.47,400.45 586.2,398.25 586.94,396.62 587.51,395.33 588.08,394.81 588.65,392.44 589.22,391.41 589.79,390.42 590.36,388.9 590.93,386.36 591.79,385.98 592.64,383.76 593.5,383.17 594.36,380.51 595.21,379.49 596.07,377.71 596.92,377.52 597.92,375.27 598.92,373.73 599.92,373.57 600.25,374.05 600.59,376.59 600.92,378.27 601.25,378.93 601.58,380.88 601.92,381.61 602.25,383.15 602.58,385.14 602.92,387.65 603.71,385.75 604.51,384.05 605.31,381.61 606.11,380.77 606.91,378.18 608.41,378.98 609.91,378.34 611.4,377.82 612.9,376.2 614.4,377.64 615.9,377.18 617.4,378.23 618.89,377.27 620.23,377.21 621.56,376.32 622.89,375.48 623.46,372.92 624.03,372.54 624.6,370.26 625.17,368.43 625.74,367.55 626.31,366.98 626.88,364.11 628.08,364.24 629.28,362.56 630.48,362.65 631.68,360.69 632.87,360.35 633.87,357.99 634.87,358.06 635.87,356.11 636.87,355.73 637.87,353.54 638.87,353.62 639.86,351.87 640.86,350.83 641.86,348.53 642.86,348.05 643.86,346.67 644.86,345.29 645.86,342.5 646.85,341.97 647.85,339.59 648.15,341.88 648.45,342.69 648.75,343.68 649.05,345.62 649.35,347.08 649.65,348.16 649.95,350.62 650.25,351.58 650.55,354.1 650.85,355.35 652.05,353.88 653.25,351.72 654.44,352.01 655.64,350.5 656.84,349.36 658.04,348.16 659.24,346.74 660.44,344.84 661.63,344.49 662.83,342.21 663.83,341.91 664.83,339.81 665.83,338.32 666.83,336.93 667.83,336.98 668.82,334.23 670.02,333.52 671.22,333.22 672.42,332.32 673.62,330.7 674.82,330.63 676.31,329.81 677.81,328.41 679.31,328.08 680.81,328.15 682.6,327.12 684.4,326.94" fill="none" stroke="#4DBEEE" stroke-width="1.6" stroke-dasharray="1.3 1.3" stroke-linejoin="round"/>
<path d="M405.5 289.4H684.5" stroke="#a9a9a9" stroke-width="1.1" fill="none"/>
<path d="M405.5 496.2H684.5" stroke="#939393" stroke-width="1.1" fill="none"/>
<path d="M405.5 289.4V496.2" stroke="#6eaee0" stroke-width="1" fill="none"/>
<path d="M684.5 289.4V496.2" stroke="#eda07e" stroke-width="1" fill="none"/>
<path d="M466.15 289.4v2.8M466.15 496.2v-2.8M526.8 289.4v2.8M526.8 496.2v-2.8M587.46 289.4v2.8M587.46 496.2v-2.8M648.11 289.4v2.8M648.11 496.2v-2.8" stroke="#555" stroke-width="0.8" fill="none"/>
<path d="M405.5 466.66h2.8M405.5 437.11h2.8M405.5 407.57h2.8M405.5 378.03h2.8M405.5 348.49h2.8M405.5 318.94h2.8" stroke="#5aa0d8" stroke-width="0.8" fill="none"/>
<path d="M684.5 470.35h-2.8M684.5 444.5h-2.8M684.5 418.65h-2.8M684.5 392.8h-2.8M684.5 366.95h-2.8M684.5 341.1h-2.8M684.5 315.25h-2.8" stroke="#e8926a" stroke-width="0.8" fill="none"/>
<text x="400.7" y="500.8" font-size="10.6" fill="#0072BD" text-anchor="end">20</text>
<text x="400.7" y="471.26" font-size="10.6" fill="#0072BD" text-anchor="end">25</text>
<text x="400.7" y="441.71" font-size="10.6" fill="#0072BD" text-anchor="end">30</text>
<text x="400.7" y="412.17" font-size="10.6" fill="#0072BD" text-anchor="end">35</text>
<text x="400.7" y="382.63" font-size="10.6" fill="#0072BD" text-anchor="end">40</text>
<text x="400.7" y="353.09" font-size="10.6" fill="#0072BD" text-anchor="end">45</text>
<text x="400.7" y="323.54" font-size="10.6" fill="#0072BD" text-anchor="end">50</text>
<text x="400.7" y="294" font-size="10.6" fill="#0072BD" text-anchor="end">55</text>
<text x="688.3" y="500.6" font-size="10.6" fill="#D95319">-10</text>
<text x="688.3" y="474.75" font-size="10.6" fill="#D95319">0</text>
<text x="688.3" y="448.9" font-size="10.6" fill="#D95319">10</text>
<text x="688.3" y="423.05" font-size="10.6" fill="#D95319">20</text>
<text x="688.3" y="397.2" font-size="10.6" fill="#D95319">30</text>
<text x="688.3" y="371.35" font-size="10.6" fill="#D95319">40</text>
<text x="688.3" y="345.5" font-size="10.6" fill="#D95319">50</text>
<text x="688.3" y="319.65" font-size="10.6" fill="#D95319">60</text>
<text x="688.3" y="293.8" font-size="10.6" fill="#D95319">70</text>
<text x="405.5" y="511.7" font-size="10.6" fill="#262626" text-anchor="middle">0</text>
<text x="466.15" y="511.7" font-size="10.6" fill="#262626" text-anchor="middle">5</text>
<text x="526.8" y="511.7" font-size="10.6" fill="#262626" text-anchor="middle">10</text>
<text x="587.46" y="511.7" font-size="10.6" fill="#262626" text-anchor="middle">15</text>
<text x="648.11" y="511.7" font-size="10.6" fill="#262626" text-anchor="middle">20</text>
<text x="545" y="526.2" font-size="12.2" fill="#262626" text-anchor="middle">Time [min]</text>
<text transform="translate(379,392.8) rotate(-90)" font-size="12" fill="#0072BD" text-anchor="middle">C/N<tspan font-size="10.3" dy="4.6">0</tspan><tspan dy="-4.6"> [dBHz]</tspan></text>
<text transform="translate(719,393.4) rotate(-90)" font-size="12" fill="#D95319" text-anchor="middle">Estimated JSR [dB]</text>
<rect x="606.5" y="400.6" width="62.7" height="88" fill="#fff" stroke="#cfcfcf" stroke-width="1"/>
<path d="M607.8 409H628.5" stroke="#0072BD" stroke-width="2.2" fill="none"/>
<text x="630.7" y="414" font-size="11" fill="#262626">12-bit</text>
<path d="M607.8 423.5H628.5" stroke="#D95319" stroke-width="1.9" stroke-dasharray="5 1.2 2.7 1.2" fill="none"/>
<text x="630.7" y="428.5" font-size="11" fill="#262626">8-bit</text>
<path d="M607.8 438H628.5" stroke="#EDB120" stroke-width="1.9" stroke-dasharray="5.5 4.5" fill="none"/>
<text x="630.7" y="443" font-size="11" fill="#262626">4-bit</text>
<path d="M607.8 452.5H628.5" stroke="#7E2F8E" stroke-width="1.8" stroke-dasharray="1.6 1.6" fill="none"/>
<text x="630.7" y="457.5" font-size="11" fill="#262626">no IM</text>
<path d="M607.8 467H628.5" stroke="#77AC30" stroke-width="1.7" stroke-dasharray="1.5 1.5" fill="none"/>
<text x="630.7" y="472" font-size="11" fill="#262626">LowRx</text>
<path d="M607.8 481.5H628.5" stroke="#4DBEEE" stroke-width="1.6" stroke-dasharray="1.3 1.3" fill="none"/>
<text x="630.7" y="486.5" font-size="11" fill="#262626">HighRx</text>
<text class="cap" x="492.9" y="555.6" font-size="14.8" fill="#1a1a1a" textLength="104.8" lengthAdjust="spacingAndGlyphs">(<tspan font-weight="bold">d</tspan>) Short pulsed</text>
</svg></body></html>
